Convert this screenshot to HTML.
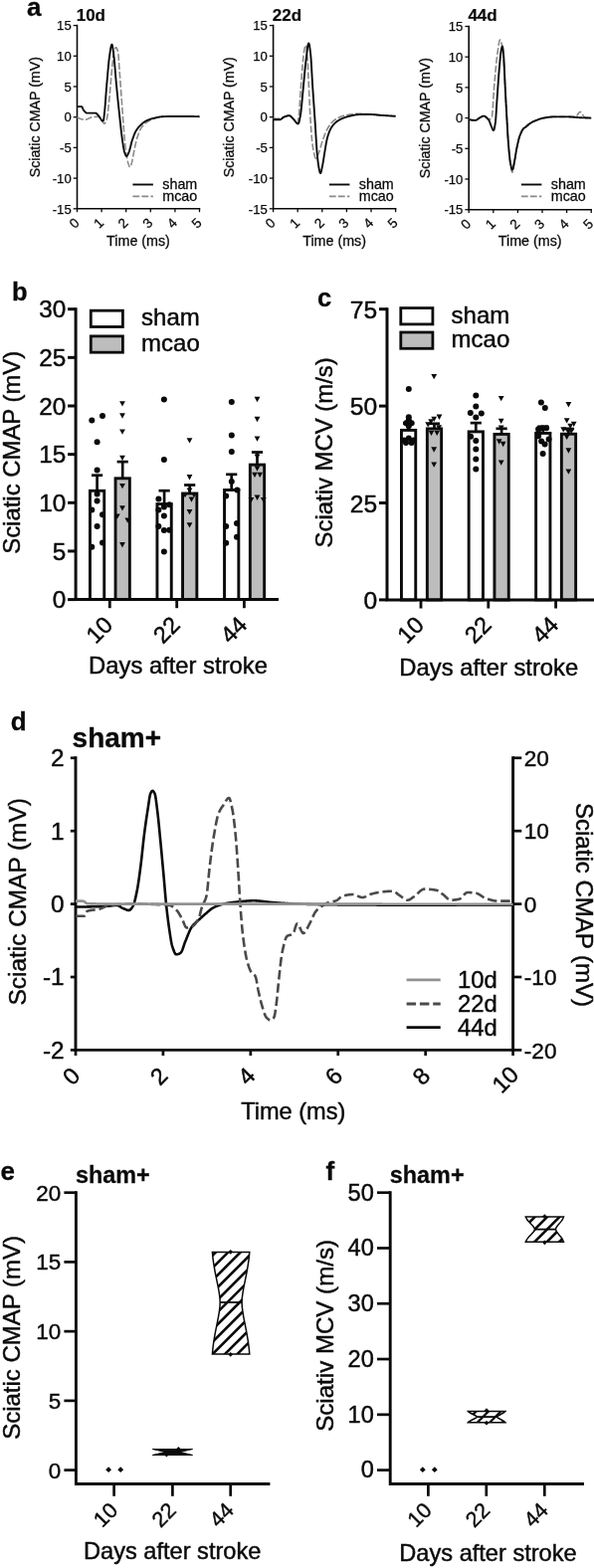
<!DOCTYPE html>
<html lang="en"><head><meta charset="utf-8"><title>Figure</title>
<style>html,body{margin:0;padding:0;background:#fff}svg{display:block}text{font-family:"Liberation Sans",Arial,Helvetica,sans-serif}</style>
</head><body>
<svg width="597" height="1576" viewBox="0 0 597 1576">
<rect width="597" height="1576" fill="#fff"/>
<text x="27" y="15.6" font-size="26" font-weight="bold" fill="#0a0a0a" stroke="#0a0a0a" stroke-width="0.29">a</text>
<path d="M77.5,24.8 V209.8 H201.3" fill="none" stroke="#0a0a0a" stroke-width="1.6" stroke-linejoin="miter"/>
<line x1="73.7" y1="25.6" x2="77.5" y2="25.6" stroke="#0a0a0a" stroke-width="1.3"/>
<text x="71.7" y="30.3" font-size="13.1" text-anchor="end" fill="#0a0a0a" stroke="#0a0a0a" stroke-width="0.25">15</text>
<line x1="73.7" y1="56.3" x2="77.5" y2="56.3" stroke="#0a0a0a" stroke-width="1.3"/>
<text x="71.7" y="61" font-size="13.1" text-anchor="end" fill="#0a0a0a" stroke="#0a0a0a" stroke-width="0.25">10</text>
<line x1="73.7" y1="87" x2="77.5" y2="87" stroke="#0a0a0a" stroke-width="1.3"/>
<text x="71.7" y="91.7" font-size="13.1" text-anchor="end" fill="#0a0a0a" stroke="#0a0a0a" stroke-width="0.25">5</text>
<line x1="73.7" y1="117.7" x2="77.5" y2="117.7" stroke="#0a0a0a" stroke-width="1.3"/>
<text x="71.7" y="122.4" font-size="13.1" text-anchor="end" fill="#0a0a0a" stroke="#0a0a0a" stroke-width="0.25">0</text>
<line x1="73.7" y1="148.4" x2="77.5" y2="148.4" stroke="#0a0a0a" stroke-width="1.3"/>
<text x="71.7" y="153.1" font-size="13.1" text-anchor="end" fill="#0a0a0a" stroke="#0a0a0a" stroke-width="0.25">-5</text>
<line x1="73.7" y1="179.1" x2="77.5" y2="179.1" stroke="#0a0a0a" stroke-width="1.3"/>
<text x="71.7" y="183.8" font-size="13.1" text-anchor="end" fill="#0a0a0a" stroke="#0a0a0a" stroke-width="0.25">-10</text>
<line x1="73.7" y1="209.8" x2="77.5" y2="209.8" stroke="#0a0a0a" stroke-width="1.3"/>
<text x="71.7" y="214.5" font-size="13.1" text-anchor="end" fill="#0a0a0a" stroke="#0a0a0a" stroke-width="0.25">-15</text>
<line x1="77.5" y1="209.8" x2="77.5" y2="213.2" stroke="#0a0a0a" stroke-width="1.3"/>
<text transform="translate(74.4 224.2) rotate(-45)" x="0" y="4.87" font-size="13.6" text-anchor="middle" fill="#0a0a0a" stroke="#0a0a0a" stroke-width="0.26">0</text>
<line x1="102.1" y1="209.8" x2="102.1" y2="213.2" stroke="#0a0a0a" stroke-width="1.3"/>
<text transform="translate(99 224.2) rotate(-45)" x="0" y="4.87" font-size="13.6" text-anchor="middle" fill="#0a0a0a" stroke="#0a0a0a" stroke-width="0.26">1</text>
<line x1="126.7" y1="209.8" x2="126.7" y2="213.2" stroke="#0a0a0a" stroke-width="1.3"/>
<text transform="translate(123.6 224.2) rotate(-45)" x="0" y="4.87" font-size="13.6" text-anchor="middle" fill="#0a0a0a" stroke="#0a0a0a" stroke-width="0.26">2</text>
<line x1="151.3" y1="209.8" x2="151.3" y2="213.2" stroke="#0a0a0a" stroke-width="1.3"/>
<text transform="translate(148.2 224.2) rotate(-45)" x="0" y="4.87" font-size="13.6" text-anchor="middle" fill="#0a0a0a" stroke="#0a0a0a" stroke-width="0.26">3</text>
<line x1="175.9" y1="209.8" x2="175.9" y2="213.2" stroke="#0a0a0a" stroke-width="1.3"/>
<text transform="translate(172.8 224.2) rotate(-45)" x="0" y="4.87" font-size="13.6" text-anchor="middle" fill="#0a0a0a" stroke="#0a0a0a" stroke-width="0.26">4</text>
<line x1="200.5" y1="209.8" x2="200.5" y2="213.2" stroke="#0a0a0a" stroke-width="1.3"/>
<text transform="translate(197.4 224.2) rotate(-45)" x="0" y="4.87" font-size="13.6" text-anchor="middle" fill="#0a0a0a" stroke="#0a0a0a" stroke-width="0.26">5</text>
<text x="76.7" y="20.8" font-size="17" font-weight="bold" fill="#0a0a0a" stroke="#0a0a0a" stroke-width="0.19">10d</text>
<text x="139" y="247" font-size="14.3" text-anchor="middle" fill="#0a0a0a" stroke="#0a0a0a" stroke-width="0.27">Time (ms)</text>
<text x="40.3" y="117.7" font-size="14.2" text-anchor="middle" fill="#0a0a0a" stroke="#0a0a0a" stroke-width="0.27" transform="rotate(-90 40.3 117.7)">Sciatic CMAP (mV)</text>
<path d="M77.5,117.7 L77.81,117.9 L78.12,118.1 L78.42,118.28 L78.73,118.46 L79.04,118.63 L79.35,118.79 L79.66,118.94 L79.97,119.08 L80.27,119.22 L80.58,119.34 L80.89,119.46 L81.2,119.57 L81.51,119.67 L81.82,119.77 L82.12,119.85 L82.43,119.93 L82.74,120 L83.05,120.06 L83.36,120.12 L83.67,120.16 L83.97,120.2 L84.28,120.23 L84.59,120.25 L84.9,120.27 L85.21,120.28 L85.52,120.28 L85.82,120.25 L86.13,120.21 L86.44,120.15 L86.75,120.07 L87.06,119.98 L87.36,119.87 L87.67,119.76 L87.98,119.63 L88.29,119.49 L88.6,119.35 L88.91,119.2 L89.21,119.05 L89.52,118.9 L89.83,118.75 L90.14,118.61 L90.45,118.46 L90.76,118.33 L91.06,118.2 L91.37,118.08 L91.68,117.97 L91.99,117.88 L92.3,117.8 L92.61,117.74 L92.91,117.7 L93.22,117.66 L93.53,117.63 L93.84,117.59 L94.15,117.56 L94.45,117.53 L94.76,117.5 L95.07,117.47 L95.38,117.44 L95.69,117.41 L96,117.39 L96.3,117.37 L96.61,117.35 L96.92,117.33 L97.23,117.31 L97.54,117.3 L97.85,117.29 L98.15,117.28 L98.46,117.27 L98.77,117.27 L99.08,117.29 L99.39,117.4 L99.7,117.6 L100,117.88 L100.31,118.22 L100.62,118.63 L100.93,119.08 L101.24,119.57 L101.55,120.08 L101.85,120.6 L102.16,121.13 L102.47,121.65 L102.78,122.14 L103.09,122.61 L103.39,123.04 L103.7,123.41 L104.01,123.72 L104.32,123.95 L104.63,124.1 L104.94,124.15 L105.24,124.05 L105.55,123.77 L105.86,123.33 L106.17,122.76 L106.48,122.08 L106.79,121.31 L107.09,120.46 L107.4,119.51 L107.71,118.04 L108.02,116.04 L108.33,113.64 L108.64,110.93 L108.94,108.03 L109.25,105.03 L109.56,102.06 L109.87,99.16 L110.18,95.99 L110.48,92.56 L110.79,88.97 L111.1,85.28 L111.41,81.59 L111.72,77.99 L112.03,74.55 L112.33,71.36 L112.64,68.38 L112.95,65.3 L113.26,62.22 L113.57,59.27 L113.88,56.6 L114.18,54.34 L114.49,52.62 L114.8,51.48 L115.11,50.47 L115.42,49.56 L115.73,48.79 L116.03,48.19 L116.34,47.82 L116.65,47.71 L116.96,47.86 L117.27,48.25 L117.58,48.85 L117.88,49.64 L118.19,50.6 L118.5,51.69 L118.81,53.41 L119.12,56.73 L119.42,61.08 L119.73,65.79 L120.04,70.2 L120.35,74.25 L120.66,78.38 L120.97,82.57 L121.27,86.8 L121.58,91.05 L121.89,95.3 L122.2,99.52 L122.51,103.75 L122.82,108.09 L123.12,112.47 L123.43,116.82 L123.74,121.09 L124.05,125.19 L124.36,129.06 L124.67,132.7 L124.97,136.34 L125.28,139.91 L125.59,143.35 L125.9,146.57 L126.21,149.49 L126.52,152.01 L126.82,154.11 L127.13,156 L127.44,157.77 L127.75,159.4 L128.06,160.88 L128.36,162.22 L128.67,163.41 L128.98,164.45 L129.29,165.35 L129.6,166.23 L129.91,167.05 L130.21,167.68 L130.52,168.02 L130.83,167.96 L131.14,167.5 L131.45,166.74 L131.76,165.79 L132.06,164.74 L132.37,163.7 L132.68,162.56 L132.99,161.2 L133.3,159.67 L133.61,158.02 L133.91,156.31 L134.22,154.58 L134.53,152.9 L134.84,151.31 L135.15,149.87 L135.45,148.45 L135.76,147.03 L136.07,145.61 L136.38,144.23 L136.69,142.88 L137,141.6 L137.3,140.39 L137.61,139.26 L137.92,138.25 L138.23,137.33 L138.54,136.44 L138.85,135.58 L139.15,134.74 L139.46,133.93 L139.77,133.15 L140.08,132.4 L140.39,131.69 L140.7,131 L141,130.36 L141.31,129.75 L141.62,129.18 L141.93,128.65 L142.24,128.16 L142.55,127.72 L142.85,127.31 L143.16,126.93 L143.47,126.56 L143.78,126.21 L144.09,125.88 L144.39,125.55 L144.7,125.24 L145.01,124.95 L145.32,124.66 L145.63,124.39 L145.94,124.13 L146.24,123.88 L146.55,123.64 L146.86,123.41 L147.17,123.18 L147.48,122.97 L147.79,122.76 L148.09,122.56 L148.4,122.36 L148.71,122.17 L149.02,121.99 L149.33,121.8 L149.64,121.62 L149.94,121.45 L150.25,121.27 L150.56,121.1 L150.87,120.94 L151.18,120.78 L151.48,120.62 L151.79,120.47 L152.1,120.32 L152.41,120.17 L152.72,120.03 L153.03,119.89 L153.33,119.76 L153.64,119.63 L153.95,119.51 L154.26,119.39 L154.57,119.27 L154.88,119.16 L155.18,119.06 L155.49,118.96 L155.8,118.86 L156.11,118.77 L156.42,118.69 L156.73,118.6 L157.03,118.52 L157.34,118.43 L157.65,118.35 L157.96,118.27 L158.27,118.19 L158.58,118.11 L158.88,118.03 L159.19,117.96 L159.5,117.89 L159.81,117.82 L160.12,117.75 L160.42,117.69 L160.73,117.63 L161.04,117.57 L161.35,117.52 L161.66,117.47 L161.97,117.42 L162.27,117.38 L162.58,117.35 L162.89,117.32 L163.2,117.29 L163.51,117.27 L163.82,117.26 L164.12,117.25 L164.43,117.23 L164.74,117.22 L165.05,117.2 L165.36,117.19 L165.67,117.18 L165.97,117.17 L166.28,117.15 L166.59,117.14 L166.9,117.13 L167.21,117.12 L167.52,117.11 L167.82,117.1 L168.13,117.09 L168.44,117.08 L168.75,117.07 L169.06,117.06 L169.36,117.05 L169.67,117.05 L169.98,117.04 L170.29,117.03 L170.6,117.02 L170.91,117.02 L171.21,117.01 L171.52,117 L171.83,117 L172.14,116.99 L172.45,116.99 L172.76,116.98 L173.06,116.98 L173.37,116.98 L173.68,116.97 L173.99,116.97 L174.3,116.97 L174.61,116.97 L174.91,116.97 L175.22,116.96 L175.53,116.96 L175.84,116.96 L176.15,116.96 L176.45,116.96 L176.76,116.96 L177.07,116.96 L177.38,116.96 L177.69,116.96 L178,116.96 L178.3,116.96 L178.61,116.96 L178.92,116.96 L179.23,116.96 L179.54,116.96 L179.85,116.96 L180.15,116.96 L180.46,116.96 L180.77,116.97 L181.08,116.97 L181.39,116.97 L181.7,116.97 L182,116.97 L182.31,116.97 L182.62,116.97 L182.93,116.97 L183.24,116.97 L183.55,116.97 L183.85,116.97 L184.16,116.97 L184.47,116.97 L184.78,116.97 L185.09,116.98 L185.39,116.98 L185.7,116.98 L186.01,116.98 L186.32,116.98 L186.63,116.98 L186.94,116.99 L187.24,116.99 L187.55,116.99 L187.86,116.99 L188.17,116.99 L188.48,117 L188.79,117 L189.09,117 L189.4,117 L189.71,117.01 L190.02,117.01 L190.33,117.01 L190.64,117.02 L190.94,117.02 L191.25,117.02 L191.56,117.03 L191.87,117.03 L192.18,117.03 L192.48,117.04 L192.79,117.04 L193.1,117.05 L193.41,117.05 L193.72,117.06 L194.03,117.06 L194.33,117.07 L194.64,117.07 L194.95,117.08 L195.26,117.08 L195.57,117.09 L195.88,117.09 L196.18,117.1 L196.49,117.11 L196.8,117.11 L197.11,117.12 L197.42,117.13 L197.73,117.13 L198.03,117.14 L198.34,117.15 L198.65,117.16 L198.96,117.17 L199.27,117.17 L199.58,117.18 L199.88,117.19 L200.19,117.2 L200.5,117.21" fill="none" stroke="#8a8a8a" stroke-width="1.6" stroke-linejoin="round" stroke-dasharray="6.8 2.2"/>
<path d="M77.5,107.14 L77.81,107.14 L78.12,107.14 L78.42,107.14 L78.73,107.14 L79.04,107.14 L79.35,107.14 L79.66,107.14 L79.97,107.14 L80.27,107.14 L80.58,107.14 L80.89,107.14 L81.2,107.14 L81.51,107.14 L81.82,107.14 L82.12,107.21 L82.43,107.54 L82.74,108.09 L83.05,108.77 L83.36,109.49 L83.67,110.17 L83.97,110.72 L84.28,111.1 L84.59,111.45 L84.9,111.79 L85.21,112.12 L85.52,112.44 L85.82,112.74 L86.13,113 L86.44,113.23 L86.75,113.42 L87.06,113.55 L87.36,113.63 L87.67,113.65 L87.98,113.65 L88.29,113.65 L88.6,113.65 L88.91,113.65 L89.21,113.65 L89.52,113.65 L89.83,113.65 L90.14,113.65 L90.45,113.65 L90.76,113.65 L91.06,113.65 L91.37,113.65 L91.68,113.65 L91.99,113.65 L92.3,113.65 L92.61,113.65 L92.91,113.65 L93.22,113.65 L93.53,113.65 L93.84,113.65 L94.15,113.65 L94.45,113.65 L94.76,113.65 L95.07,113.65 L95.38,113.65 L95.69,113.65 L96,113.65 L96.3,113.71 L96.61,113.86 L96.92,114.07 L97.23,114.34 L97.54,114.65 L97.85,114.99 L98.15,115.34 L98.46,115.69 L98.77,116.03 L99.08,116.35 L99.39,116.73 L99.7,117.15 L100,117.61 L100.31,118.09 L100.62,118.58 L100.93,119.07 L101.24,119.54 L101.55,119.99 L101.85,120.4 L102.16,120.75 L102.47,121.05 L102.78,121.26 L103.09,121.38 L103.39,121.46 L103.7,121.5 L104.01,121.15 L104.32,119.37 L104.63,116.73 L104.94,113.96 L105.24,111 L105.55,107.48 L105.86,103.57 L106.17,99.42 L106.48,95.19 L106.79,91.05 L107.09,87.16 L107.4,83.62 L107.71,80.08 L108.02,76.51 L108.33,72.96 L108.64,69.49 L108.94,66.16 L109.25,63.02 L109.56,60.13 L109.87,57.55 L110.18,55.34 L110.48,53.35 L110.79,51.33 L111.1,49.39 L111.41,47.64 L111.72,46.2 L112.03,45.17 L112.33,44.67 L112.64,44.85 L112.95,45.88 L113.26,47.54 L113.57,49.65 L113.88,52 L114.18,54.38 L114.49,56.79 L114.8,59.67 L115.11,62.94 L115.42,66.5 L115.73,70.24 L116.03,74.06 L116.34,77.84 L116.65,81.49 L116.96,84.9 L117.27,88.11 L117.58,91.28 L117.88,94.41 L118.19,97.51 L118.5,100.57 L118.81,103.59 L119.12,106.57 L119.42,109.51 L119.73,112.41 L120.04,115.27 L120.35,118.14 L120.66,121.03 L120.97,123.92 L121.27,126.79 L121.58,129.6 L121.89,132.32 L122.2,134.93 L122.51,137.4 L122.82,139.69 L123.12,141.8 L123.43,143.87 L123.74,145.91 L124.05,147.85 L124.36,149.63 L124.67,151.2 L124.97,152.5 L125.28,153.47 L125.59,154.32 L125.9,155.12 L126.21,155.83 L126.52,156.41 L126.82,156.81 L127.13,156.99 L127.44,156.92 L127.75,156.65 L128.06,156.2 L128.36,155.64 L128.67,154.98 L128.98,154.28 L129.29,153.57 L129.6,152.85 L129.91,151.99 L130.21,150.98 L130.52,149.87 L130.83,148.68 L131.14,147.44 L131.45,146.18 L131.76,144.94 L132.06,143.73 L132.37,142.59 L132.68,141.55 L132.99,140.62 L133.3,139.72 L133.61,138.84 L133.91,137.97 L134.22,137.12 L134.53,136.29 L134.84,135.49 L135.15,134.73 L135.45,134.01 L135.76,133.32 L136.07,132.69 L136.38,132.1 L136.69,131.57 L137,131.07 L137.3,130.58 L137.61,130.12 L137.92,129.67 L138.23,129.25 L138.54,128.84 L138.85,128.44 L139.15,128.07 L139.46,127.7 L139.77,127.36 L140.08,127.02 L140.39,126.69 L140.7,126.38 L141,126.07 L141.31,125.78 L141.62,125.48 L141.93,125.19 L142.24,124.91 L142.55,124.63 L142.85,124.36 L143.16,124.09 L143.47,123.83 L143.78,123.58 L144.09,123.34 L144.39,123.1 L144.7,122.87 L145.01,122.65 L145.32,122.43 L145.63,122.23 L145.94,122.03 L146.24,121.85 L146.55,121.68 L146.86,121.51 L147.17,121.36 L147.48,121.21 L147.79,121.07 L148.09,120.93 L148.4,120.8 L148.71,120.67 L149.02,120.54 L149.33,120.41 L149.64,120.29 L149.94,120.18 L150.25,120.06 L150.56,119.95 L150.87,119.85 L151.18,119.74 L151.48,119.64 L151.79,119.54 L152.1,119.45 L152.41,119.36 L152.72,119.27 L153.03,119.18 L153.33,119.1 L153.64,119.02 L153.95,118.94 L154.26,118.86 L154.57,118.79 L154.88,118.71 L155.18,118.64 L155.49,118.57 L155.8,118.5 L156.11,118.42 L156.42,118.35 L156.73,118.28 L157.03,118.21 L157.34,118.14 L157.65,118.07 L157.96,118.01 L158.27,117.94 L158.58,117.88 L158.88,117.82 L159.19,117.76 L159.5,117.7 L159.81,117.64 L160.12,117.59 L160.42,117.54 L160.73,117.49 L161.04,117.45 L161.35,117.4 L161.66,117.36 L161.97,117.33 L162.27,117.3 L162.58,117.27 L162.89,117.25 L163.2,117.23 L163.51,117.21 L163.82,117.2 L164.12,117.19 L164.43,117.18 L164.74,117.17 L165.05,117.16 L165.36,117.15 L165.67,117.14 L165.97,117.13 L166.28,117.12 L166.59,117.11 L166.9,117.1 L167.21,117.09 L167.52,117.08 L167.82,117.07 L168.13,117.07 L168.44,117.06 L168.75,117.05 L169.06,117.04 L169.36,117.04 L169.67,117.03 L169.98,117.02 L170.29,117.02 L170.6,117.01 L170.91,117.01 L171.21,117 L171.52,117 L171.83,116.99 L172.14,116.99 L172.45,116.98 L172.76,116.98 L173.06,116.98 L173.37,116.97 L173.68,116.97 L173.99,116.97 L174.3,116.97 L174.61,116.97 L174.91,116.96 L175.22,116.96 L175.53,116.96 L175.84,116.96 L176.15,116.96 L176.45,116.96 L176.76,116.96 L177.07,116.96 L177.38,116.96 L177.69,116.96 L178,116.96 L178.3,116.96 L178.61,116.96 L178.92,116.96 L179.23,116.96 L179.54,116.96 L179.85,116.96 L180.15,116.96 L180.46,116.96 L180.77,116.97 L181.08,116.97 L181.39,116.97 L181.7,116.97 L182,116.97 L182.31,116.97 L182.62,116.97 L182.93,116.97 L183.24,116.97 L183.55,116.97 L183.85,116.97 L184.16,116.97 L184.47,116.97 L184.78,116.97 L185.09,116.98 L185.39,116.98 L185.7,116.98 L186.01,116.98 L186.32,116.98 L186.63,116.98 L186.94,116.99 L187.24,116.99 L187.55,116.99 L187.86,116.99 L188.17,116.99 L188.48,117 L188.79,117 L189.09,117 L189.4,117 L189.71,117.01 L190.02,117.01 L190.33,117.01 L190.64,117.02 L190.94,117.02 L191.25,117.02 L191.56,117.03 L191.87,117.03 L192.18,117.03 L192.48,117.04 L192.79,117.04 L193.1,117.05 L193.41,117.05 L193.72,117.06 L194.03,117.06 L194.33,117.07 L194.64,117.07 L194.95,117.08 L195.26,117.08 L195.57,117.09 L195.88,117.09 L196.18,117.1 L196.49,117.11 L196.8,117.11 L197.11,117.12 L197.42,117.13 L197.73,117.13 L198.03,117.14 L198.34,117.15 L198.65,117.16 L198.96,117.17 L199.27,117.17 L199.58,117.18 L199.88,117.19 L200.19,117.2 L200.5,117.21" fill="none" stroke="#0a0a0a" stroke-width="1.9" stroke-linejoin="round"/>
<line x1="133.4" y1="185.5" x2="153.9" y2="185.5" stroke="#0a0a0a" stroke-width="1.9"/>
<line x1="133.4" y1="197.4" x2="153.9" y2="197.4" stroke="#8a8a8a" stroke-width="1.6" stroke-dasharray="6.8 2.2"/>
<text x="163.3" y="190" font-size="14.3" fill="#0a0a0a" stroke="#0a0a0a" stroke-width="0.27">sham</text>
<text x="163.3" y="202.1" font-size="14.3" fill="#0a0a0a" stroke="#0a0a0a" stroke-width="0.27">mcao</text>
<path d="M274.6,24.8 V209.8 H398.4" fill="none" stroke="#0a0a0a" stroke-width="1.6" stroke-linejoin="miter"/>
<line x1="270.8" y1="25.6" x2="274.6" y2="25.6" stroke="#0a0a0a" stroke-width="1.3"/>
<text x="268.8" y="30.3" font-size="13.1" text-anchor="end" fill="#0a0a0a" stroke="#0a0a0a" stroke-width="0.25">15</text>
<line x1="270.8" y1="56.3" x2="274.6" y2="56.3" stroke="#0a0a0a" stroke-width="1.3"/>
<text x="268.8" y="61" font-size="13.1" text-anchor="end" fill="#0a0a0a" stroke="#0a0a0a" stroke-width="0.25">10</text>
<line x1="270.8" y1="87" x2="274.6" y2="87" stroke="#0a0a0a" stroke-width="1.3"/>
<text x="268.8" y="91.7" font-size="13.1" text-anchor="end" fill="#0a0a0a" stroke="#0a0a0a" stroke-width="0.25">5</text>
<line x1="270.8" y1="117.7" x2="274.6" y2="117.7" stroke="#0a0a0a" stroke-width="1.3"/>
<text x="268.8" y="122.4" font-size="13.1" text-anchor="end" fill="#0a0a0a" stroke="#0a0a0a" stroke-width="0.25">0</text>
<line x1="270.8" y1="148.4" x2="274.6" y2="148.4" stroke="#0a0a0a" stroke-width="1.3"/>
<text x="268.8" y="153.1" font-size="13.1" text-anchor="end" fill="#0a0a0a" stroke="#0a0a0a" stroke-width="0.25">-5</text>
<line x1="270.8" y1="179.1" x2="274.6" y2="179.1" stroke="#0a0a0a" stroke-width="1.3"/>
<text x="268.8" y="183.8" font-size="13.1" text-anchor="end" fill="#0a0a0a" stroke="#0a0a0a" stroke-width="0.25">-10</text>
<line x1="270.8" y1="209.8" x2="274.6" y2="209.8" stroke="#0a0a0a" stroke-width="1.3"/>
<text x="268.8" y="214.5" font-size="13.1" text-anchor="end" fill="#0a0a0a" stroke="#0a0a0a" stroke-width="0.25">-15</text>
<line x1="274.6" y1="209.8" x2="274.6" y2="213.2" stroke="#0a0a0a" stroke-width="1.3"/>
<text transform="translate(271.5 224.2) rotate(-45)" x="0" y="4.87" font-size="13.6" text-anchor="middle" fill="#0a0a0a" stroke="#0a0a0a" stroke-width="0.26">0</text>
<line x1="299.2" y1="209.8" x2="299.2" y2="213.2" stroke="#0a0a0a" stroke-width="1.3"/>
<text transform="translate(296.1 224.2) rotate(-45)" x="0" y="4.87" font-size="13.6" text-anchor="middle" fill="#0a0a0a" stroke="#0a0a0a" stroke-width="0.26">1</text>
<line x1="323.8" y1="209.8" x2="323.8" y2="213.2" stroke="#0a0a0a" stroke-width="1.3"/>
<text transform="translate(320.7 224.2) rotate(-45)" x="0" y="4.87" font-size="13.6" text-anchor="middle" fill="#0a0a0a" stroke="#0a0a0a" stroke-width="0.26">2</text>
<line x1="348.4" y1="209.8" x2="348.4" y2="213.2" stroke="#0a0a0a" stroke-width="1.3"/>
<text transform="translate(345.3 224.2) rotate(-45)" x="0" y="4.87" font-size="13.6" text-anchor="middle" fill="#0a0a0a" stroke="#0a0a0a" stroke-width="0.26">3</text>
<line x1="373" y1="209.8" x2="373" y2="213.2" stroke="#0a0a0a" stroke-width="1.3"/>
<text transform="translate(369.9 224.2) rotate(-45)" x="0" y="4.87" font-size="13.6" text-anchor="middle" fill="#0a0a0a" stroke="#0a0a0a" stroke-width="0.26">4</text>
<line x1="397.6" y1="209.8" x2="397.6" y2="213.2" stroke="#0a0a0a" stroke-width="1.3"/>
<text transform="translate(394.5 224.2) rotate(-45)" x="0" y="4.87" font-size="13.6" text-anchor="middle" fill="#0a0a0a" stroke="#0a0a0a" stroke-width="0.26">5</text>
<text x="273.8" y="20.8" font-size="17" font-weight="bold" fill="#0a0a0a" stroke="#0a0a0a" stroke-width="0.19">22d</text>
<text x="336.1" y="247" font-size="14.3" text-anchor="middle" fill="#0a0a0a" stroke="#0a0a0a" stroke-width="0.27">Time (ms)</text>
<text x="234.6" y="117.7" font-size="14.2" text-anchor="middle" fill="#0a0a0a" stroke="#0a0a0a" stroke-width="0.27" transform="rotate(-90 234.6 117.7)">Sciatic CMAP (mV)</text>
<path d="M274.6,118.74 L274.91,118.83 L275.22,118.9 L275.52,118.96 L275.83,119.02 L276.14,119.07 L276.45,119.11 L276.76,119.14 L277.07,119.17 L277.37,119.19 L277.68,119.2 L277.99,119.22 L278.3,119.22 L278.61,119.23 L278.92,119.23 L279.22,119.23 L279.53,119.23 L279.84,119.22 L280.15,119.19 L280.46,119.15 L280.77,119.09 L281.07,119.01 L281.38,118.92 L281.69,118.82 L282,118.71 L282.31,118.6 L282.62,118.48 L282.92,118.35 L283.23,118.23 L283.54,118.1 L283.85,117.97 L284.16,117.84 L284.46,117.72 L284.77,117.61 L285.08,117.5 L285.39,117.4 L285.7,117.31 L286.01,117.2 L286.31,117.09 L286.62,116.98 L286.93,116.86 L287.24,116.74 L287.55,116.63 L287.86,116.51 L288.16,116.41 L288.47,116.31 L288.78,116.22 L289.09,116.14 L289.4,116.07 L289.71,116.02 L290.01,115.99 L290.32,115.98 L290.63,116.01 L290.94,116.09 L291.25,116.23 L291.55,116.42 L291.86,116.64 L292.17,116.89 L292.48,117.17 L292.79,117.47 L293.1,117.77 L293.4,118.08 L293.71,118.39 L294.02,118.69 L294.33,118.97 L294.64,119.29 L294.95,119.66 L295.25,120.06 L295.56,120.5 L295.87,120.96 L296.18,121.42 L296.49,121.87 L296.8,122.3 L297.1,122.7 L297.41,123.06 L297.72,123.37 L298.03,123.61 L298.34,123.77 L298.65,123.84 L298.95,123.6 L299.26,122.67 L299.57,121.2 L299.88,119.33 L300.19,117.2 L300.49,114.92 L300.8,111.62 L301.11,107.24 L301.42,102.3 L301.73,97.29 L302.04,92.74 L302.34,88.46 L302.65,84.09 L302.96,79.72 L303.27,75.44 L303.58,71.36 L303.89,67.56 L304.19,64.14 L304.5,61.15 L304.81,58.25 L305.12,55.45 L305.43,52.88 L305.74,50.64 L306.04,48.86 L306.35,47.65 L306.66,46.75 L306.97,45.97 L307.28,45.43 L307.58,45.25 L307.89,46.25 L308.2,48.63 L308.51,51.84 L308.82,55.35 L309.13,60.04 L309.43,66.26 L309.74,73.3 L310.05,80.44 L310.36,87.01 L310.67,93.6 L310.98,100.3 L311.28,106.79 L311.59,112.75 L311.9,118 L312.21,123.03 L312.52,127.86 L312.83,132.37 L313.13,136.45 L313.44,139.99 L313.75,142.87 L314.06,145.34 L314.37,147.57 L314.68,149.58 L314.98,151.37 L315.29,152.91 L315.6,154.23 L315.91,155.39 L316.22,156.53 L316.52,157.58 L316.83,158.43 L317.14,158.98 L317.45,159.14 L317.76,159.02 L318.07,158.72 L318.37,158.28 L318.68,157.73 L318.99,157.1 L319.3,156.41 L319.61,155.69 L319.92,154.98 L320.22,154.28 L320.53,153.5 L320.84,152.62 L321.15,151.65 L321.46,150.62 L321.77,149.54 L322.07,148.44 L322.38,147.32 L322.69,146.21 L323,145.13 L323.31,144.09 L323.62,143.11 L323.92,142.21 L324.23,141.32 L324.54,140.44 L324.85,139.56 L325.16,138.69 L325.46,137.83 L325.77,136.98 L326.08,136.15 L326.39,135.34 L326.7,134.55 L327.01,133.78 L327.31,133.05 L327.62,132.35 L327.93,131.68 L328.24,131.05 L328.55,130.46 L328.86,129.89 L329.16,129.33 L329.47,128.78 L329.78,128.25 L330.09,127.74 L330.4,127.24 L330.71,126.75 L331.01,126.28 L331.32,125.83 L331.63,125.39 L331.94,124.97 L332.25,124.57 L332.55,124.18 L332.86,123.82 L333.17,123.47 L333.48,123.14 L333.79,122.83 L334.1,122.54 L334.4,122.24 L334.71,121.96 L335.02,121.69 L335.33,121.42 L335.64,121.16 L335.95,120.91 L336.25,120.66 L336.56,120.43 L336.87,120.2 L337.18,119.98 L337.49,119.77 L337.8,119.56 L338.1,119.37 L338.41,119.18 L338.72,119 L339.03,118.83 L339.34,118.66 L339.65,118.51 L339.95,118.36 L340.26,118.21 L340.57,118.07 L340.88,117.93 L341.19,117.79 L341.49,117.66 L341.8,117.53 L342.11,117.4 L342.42,117.28 L342.73,117.16 L343.04,117.04 L343.34,116.92 L343.65,116.81 L343.96,116.71 L344.27,116.61 L344.58,116.51 L344.89,116.41 L345.19,116.32 L345.5,116.24 L345.81,116.16 L346.12,116.08 L346.43,116.01 L346.74,115.94 L347.04,115.88 L347.35,115.82 L347.66,115.77 L347.97,115.71 L348.28,115.65 L348.58,115.6 L348.89,115.54 L349.2,115.49 L349.51,115.43 L349.82,115.38 L350.13,115.33 L350.43,115.28 L350.74,115.22 L351.05,115.17 L351.36,115.12 L351.67,115.07 L351.98,115.03 L352.28,114.98 L352.59,114.93 L352.9,114.89 L353.21,114.84 L353.52,114.8 L353.83,114.76 L354.13,114.72 L354.44,114.68 L354.75,114.64 L355.06,114.61 L355.37,114.57 L355.68,114.54 L355.98,114.51 L356.29,114.48 L356.6,114.45 L356.91,114.43 L357.22,114.4 L357.52,114.38 L357.83,114.36 L358.14,114.34 L358.45,114.32 L358.76,114.31 L359.07,114.29 L359.37,114.28 L359.68,114.27 L359.99,114.27 L360.3,114.26 L360.61,114.26 L360.92,114.26 L361.22,114.26 L361.53,114.27 L361.84,114.27 L362.15,114.27 L362.46,114.28 L362.77,114.29 L363.07,114.29 L363.38,114.3 L363.69,114.31 L364,114.32 L364.31,114.33 L364.62,114.34 L364.92,114.35 L365.23,114.37 L365.54,114.38 L365.85,114.39 L366.16,114.41 L366.46,114.42 L366.77,114.43 L367.08,114.45 L367.39,114.47 L367.7,114.48 L368.01,114.5 L368.31,114.51 L368.62,114.53 L368.93,114.55 L369.24,114.56 L369.55,114.58 L369.86,114.59 L370.16,114.61 L370.47,114.63 L370.78,114.64 L371.09,114.66 L371.4,114.68 L371.71,114.7 L372.01,114.72 L372.32,114.74 L372.63,114.77 L372.94,114.79 L373.25,114.82 L373.55,114.84 L373.86,114.87 L374.17,114.9 L374.48,114.92 L374.79,114.95 L375.1,114.98 L375.4,115.01 L375.71,115.04 L376.02,115.07 L376.33,115.1 L376.64,115.14 L376.95,115.17 L377.25,115.2 L377.56,115.23 L377.87,115.26 L378.18,115.29 L378.49,115.33 L378.8,115.36 L379.1,115.39 L379.41,115.42 L379.72,115.45 L380.03,115.48 L380.34,115.51 L380.65,115.54 L380.95,115.57 L381.26,115.6 L381.57,115.63 L381.88,115.65 L382.19,115.68 L382.49,115.71 L382.8,115.73 L383.11,115.76 L383.42,115.78 L383.73,115.81 L384.04,115.83 L384.34,115.85 L384.65,115.88 L384.96,115.9 L385.27,115.93 L385.58,115.95 L385.89,115.97 L386.19,116 L386.5,116.02 L386.81,116.04 L387.12,116.07 L387.43,116.09 L387.74,116.11 L388.04,116.13 L388.35,116.16 L388.66,116.18 L388.97,116.2 L389.28,116.22 L389.58,116.25 L389.89,116.27 L390.2,116.29 L390.51,116.31 L390.82,116.33 L391.13,116.36 L391.43,116.38 L391.74,116.4 L392.05,116.42 L392.36,116.44 L392.67,116.46 L392.98,116.48 L393.28,116.5 L393.59,116.52 L393.9,116.55 L394.21,116.57 L394.52,116.59 L394.83,116.61 L395.13,116.63 L395.44,116.65 L395.75,116.66 L396.06,116.68 L396.37,116.7 L396.68,116.72 L396.98,116.74 L397.29,116.76 L397.6,116.78" fill="none" stroke="#8a8a8a" stroke-width="1.6" stroke-linejoin="round" stroke-dasharray="6.8 2.2"/>
<path d="M274.6,120.28 L274.91,120.28 L275.22,120.28 L275.52,120.28 L275.83,120.28 L276.14,120.28 L276.45,120.28 L276.76,120.28 L277.07,120.28 L277.37,120.28 L277.68,120.28 L277.99,120.28 L278.3,120.28 L278.61,120.28 L278.92,120.28 L279.22,120.28 L279.53,120.28 L279.84,120.28 L280.15,120.28 L280.46,120.28 L280.77,120.28 L281.07,120.28 L281.38,120.24 L281.69,120.14 L282,120.01 L282.31,119.84 L282.62,119.64 L282.92,119.42 L283.23,119.19 L283.54,118.95 L283.85,118.7 L284.16,118.47 L284.46,118.24 L284.77,118.04 L285.08,117.86 L285.39,117.71 L285.7,117.59 L286.01,117.47 L286.31,117.34 L286.62,117.22 L286.93,117.1 L287.24,116.98 L287.55,116.86 L287.86,116.75 L288.16,116.64 L288.47,116.54 L288.78,116.45 L289.09,116.38 L289.4,116.31 L289.71,116.25 L290.01,116.21 L290.32,116.18 L290.63,116.17 L290.94,116.18 L291.25,116.27 L291.55,116.42 L291.86,116.62 L292.17,116.86 L292.48,117.14 L292.79,117.44 L293.1,117.77 L293.4,118.1 L293.71,118.43 L294.02,118.75 L294.33,119.05 L294.64,119.34 L294.95,119.65 L295.25,120 L295.56,120.37 L295.87,120.77 L296.18,121.18 L296.49,121.59 L296.8,122.01 L297.1,122.41 L297.41,122.8 L297.72,123.17 L298.03,123.5 L298.34,123.8 L298.65,124.05 L298.95,124.25 L299.26,124.38 L299.57,124.45 L299.88,124.37 L300.19,123.87 L300.49,122.99 L300.8,121.8 L301.11,120.38 L301.42,118.79 L301.73,117.1 L302.04,115.39 L302.34,113.37 L302.65,110.82 L302.96,107.88 L303.27,104.66 L303.58,101.29 L303.89,97.89 L304.19,94.59 L304.5,91.46 L304.81,88.23 L305.12,84.88 L305.43,81.48 L305.74,78.06 L306.04,74.69 L306.35,71.42 L306.66,68.31 L306.97,65.41 L307.28,62.77 L307.58,60.25 L307.89,57.6 L308.2,54.91 L308.51,52.28 L308.82,49.81 L309.13,47.61 L309.43,45.77 L309.74,44.4 L310.05,43.59 L310.36,43.44 L310.67,44.08 L310.98,45.41 L311.28,47.29 L311.59,49.58 L311.9,52.14 L312.21,54.82 L312.52,58.13 L312.83,62.69 L313.13,68.07 L313.44,73.83 L313.75,79.55 L314.06,84.78 L314.37,89.49 L314.68,94.08 L314.98,98.58 L315.29,103.02 L315.6,107.44 L315.91,111.87 L316.22,116.33 L316.52,120.87 L316.83,125.56 L317.14,130.59 L317.45,135.79 L317.76,140.93 L318.07,145.8 L318.37,150.18 L318.68,153.84 L318.99,157.11 L319.3,160.16 L319.61,162.92 L319.92,165.34 L320.22,167.34 L320.53,168.94 L320.84,170.49 L321.15,171.92 L321.46,173.09 L321.77,173.89 L322.07,174.19 L322.38,173.88 L322.69,173.03 L323,171.81 L323.31,170.38 L323.62,168.89 L323.92,167.48 L324.23,165.92 L324.54,164.16 L324.85,162.26 L325.16,160.29 L325.46,158.28 L325.77,156.29 L326.08,154.37 L326.39,152.55 L326.7,150.69 L327.01,148.79 L327.31,146.9 L327.62,145.05 L327.93,143.3 L328.24,141.68 L328.55,140.26 L328.86,139.04 L329.16,137.92 L329.47,136.84 L329.78,135.82 L330.09,134.86 L330.4,133.95 L330.71,133.1 L331.01,132.3 L331.32,131.56 L331.63,130.86 L331.94,130.23 L332.25,129.64 L332.55,129.09 L332.86,128.56 L333.17,128.06 L333.48,127.58 L333.79,127.12 L334.1,126.68 L334.4,126.27 L334.71,125.87 L335.02,125.49 L335.33,125.13 L335.64,124.79 L335.95,124.47 L336.25,124.16 L336.56,123.87 L336.87,123.59 L337.18,123.32 L337.49,123.05 L337.8,122.8 L338.1,122.55 L338.41,122.31 L338.72,122.08 L339.03,121.85 L339.34,121.63 L339.65,121.42 L339.95,121.22 L340.26,121.02 L340.57,120.83 L340.88,120.65 L341.19,120.47 L341.49,120.3 L341.8,120.13 L342.11,119.97 L342.42,119.82 L342.73,119.67 L343.04,119.53 L343.34,119.39 L343.65,119.25 L343.96,119.11 L344.27,118.98 L344.58,118.85 L344.89,118.73 L345.19,118.6 L345.5,118.48 L345.81,118.37 L346.12,118.25 L346.43,118.14 L346.74,118.03 L347.04,117.93 L347.35,117.82 L347.66,117.72 L347.97,117.63 L348.28,117.53 L348.58,117.44 L348.89,117.35 L349.2,117.26 L349.51,117.18 L349.82,117.1 L350.13,117.02 L350.43,116.95 L350.74,116.87 L351.05,116.8 L351.36,116.72 L351.67,116.65 L351.98,116.57 L352.28,116.5 L352.59,116.43 L352.9,116.35 L353.21,116.28 L353.52,116.21 L353.83,116.14 L354.13,116.07 L354.44,116 L354.75,115.94 L355.06,115.87 L355.37,115.81 L355.68,115.75 L355.98,115.69 L356.29,115.63 L356.6,115.57 L356.91,115.52 L357.22,115.47 L357.52,115.42 L357.83,115.38 L358.14,115.34 L358.45,115.3 L358.76,115.26 L359.07,115.23 L359.37,115.2 L359.68,115.18 L359.99,115.16 L360.3,115.14 L360.61,115.12 L360.92,115.11 L361.22,115.1 L361.53,115.09 L361.84,115.08 L362.15,115.07 L362.46,115.07 L362.77,115.06 L363.07,115.05 L363.38,115.04 L363.69,115.03 L364,115.02 L364.31,115.02 L364.62,115.01 L364.92,115 L365.23,115 L365.54,114.99 L365.85,114.98 L366.16,114.98 L366.46,114.97 L366.77,114.97 L367.08,114.96 L367.39,114.96 L367.7,114.95 L368.01,114.95 L368.31,114.95 L368.62,114.95 L368.93,114.94 L369.24,114.94 L369.55,114.94 L369.86,114.94 L370.16,114.94 L370.47,114.94 L370.78,114.94 L371.09,114.94 L371.4,114.95 L371.71,114.95 L372.01,114.96 L372.32,114.97 L372.63,114.99 L372.94,115 L373.25,115.02 L373.55,115.04 L373.86,115.06 L374.17,115.08 L374.48,115.1 L374.79,115.13 L375.1,115.15 L375.4,115.18 L375.71,115.2 L376.02,115.23 L376.33,115.26 L376.64,115.29 L376.95,115.32 L377.25,115.35 L377.56,115.38 L377.87,115.41 L378.18,115.44 L378.49,115.47 L378.8,115.5 L379.1,115.53 L379.41,115.56 L379.72,115.59 L380.03,115.62 L380.34,115.65 L380.65,115.68 L380.95,115.71 L381.26,115.73 L381.57,115.76 L381.88,115.79 L382.19,115.81 L382.49,115.83 L382.8,115.86 L383.11,115.88 L383.42,115.9 L383.73,115.92 L384.04,115.94 L384.34,115.96 L384.65,115.98 L384.96,116 L385.27,116.02 L385.58,116.04 L385.89,116.06 L386.19,116.08 L386.5,116.1 L386.81,116.12 L387.12,116.14 L387.43,116.16 L387.74,116.18 L388.04,116.2 L388.35,116.22 L388.66,116.24 L388.97,116.26 L389.28,116.28 L389.58,116.3 L389.89,116.32 L390.2,116.34 L390.51,116.36 L390.82,116.38 L391.13,116.4 L391.43,116.42 L391.74,116.44 L392.05,116.46 L392.36,116.47 L392.67,116.49 L392.98,116.51 L393.28,116.53 L393.59,116.55 L393.9,116.57 L394.21,116.58 L394.52,116.6 L394.83,116.62 L395.13,116.64 L395.44,116.66 L395.75,116.67 L396.06,116.69 L396.37,116.71 L396.68,116.73 L396.98,116.74 L397.29,116.76 L397.6,116.78" fill="none" stroke="#0a0a0a" stroke-width="1.9" stroke-linejoin="round"/>
<line x1="330.9" y1="185.5" x2="351.4" y2="185.5" stroke="#0a0a0a" stroke-width="1.9"/>
<line x1="330.9" y1="197.4" x2="351.4" y2="197.4" stroke="#8a8a8a" stroke-width="1.6" stroke-dasharray="6.8 2.2"/>
<text x="360.8" y="190" font-size="14.3" fill="#0a0a0a" stroke="#0a0a0a" stroke-width="0.27">sham</text>
<text x="360.8" y="202.1" font-size="14.3" fill="#0a0a0a" stroke="#0a0a0a" stroke-width="0.27">mcao</text>
<path d="M471.2,25.7 V210.7 H595" fill="none" stroke="#0a0a0a" stroke-width="1.6" stroke-linejoin="miter"/>
<line x1="467.4" y1="26.5" x2="471.2" y2="26.5" stroke="#0a0a0a" stroke-width="1.3"/>
<text x="465.4" y="31.2" font-size="13.1" text-anchor="end" fill="#0a0a0a" stroke="#0a0a0a" stroke-width="0.25">15</text>
<line x1="467.4" y1="57.2" x2="471.2" y2="57.2" stroke="#0a0a0a" stroke-width="1.3"/>
<text x="465.4" y="61.9" font-size="13.1" text-anchor="end" fill="#0a0a0a" stroke="#0a0a0a" stroke-width="0.25">10</text>
<line x1="467.4" y1="87.9" x2="471.2" y2="87.9" stroke="#0a0a0a" stroke-width="1.3"/>
<text x="465.4" y="92.6" font-size="13.1" text-anchor="end" fill="#0a0a0a" stroke="#0a0a0a" stroke-width="0.25">5</text>
<line x1="467.4" y1="118.6" x2="471.2" y2="118.6" stroke="#0a0a0a" stroke-width="1.3"/>
<text x="465.4" y="123.3" font-size="13.1" text-anchor="end" fill="#0a0a0a" stroke="#0a0a0a" stroke-width="0.25">0</text>
<line x1="467.4" y1="149.3" x2="471.2" y2="149.3" stroke="#0a0a0a" stroke-width="1.3"/>
<text x="465.4" y="154" font-size="13.1" text-anchor="end" fill="#0a0a0a" stroke="#0a0a0a" stroke-width="0.25">-5</text>
<line x1="467.4" y1="180" x2="471.2" y2="180" stroke="#0a0a0a" stroke-width="1.3"/>
<text x="465.4" y="184.7" font-size="13.1" text-anchor="end" fill="#0a0a0a" stroke="#0a0a0a" stroke-width="0.25">-10</text>
<line x1="467.4" y1="210.7" x2="471.2" y2="210.7" stroke="#0a0a0a" stroke-width="1.3"/>
<text x="465.4" y="215.4" font-size="13.1" text-anchor="end" fill="#0a0a0a" stroke="#0a0a0a" stroke-width="0.25">-15</text>
<line x1="471.2" y1="210.7" x2="471.2" y2="214.1" stroke="#0a0a0a" stroke-width="1.3"/>
<text transform="translate(468.1 225.1) rotate(-45)" x="0" y="4.87" font-size="13.6" text-anchor="middle" fill="#0a0a0a" stroke="#0a0a0a" stroke-width="0.26">0</text>
<line x1="495.8" y1="210.7" x2="495.8" y2="214.1" stroke="#0a0a0a" stroke-width="1.3"/>
<text transform="translate(492.7 225.1) rotate(-45)" x="0" y="4.87" font-size="13.6" text-anchor="middle" fill="#0a0a0a" stroke="#0a0a0a" stroke-width="0.26">1</text>
<line x1="520.4" y1="210.7" x2="520.4" y2="214.1" stroke="#0a0a0a" stroke-width="1.3"/>
<text transform="translate(517.3 225.1) rotate(-45)" x="0" y="4.87" font-size="13.6" text-anchor="middle" fill="#0a0a0a" stroke="#0a0a0a" stroke-width="0.26">2</text>
<line x1="545" y1="210.7" x2="545" y2="214.1" stroke="#0a0a0a" stroke-width="1.3"/>
<text transform="translate(541.9 225.1) rotate(-45)" x="0" y="4.87" font-size="13.6" text-anchor="middle" fill="#0a0a0a" stroke="#0a0a0a" stroke-width="0.26">3</text>
<line x1="569.6" y1="210.7" x2="569.6" y2="214.1" stroke="#0a0a0a" stroke-width="1.3"/>
<text transform="translate(566.5 225.1) rotate(-45)" x="0" y="4.87" font-size="13.6" text-anchor="middle" fill="#0a0a0a" stroke="#0a0a0a" stroke-width="0.26">4</text>
<line x1="594.2" y1="210.7" x2="594.2" y2="214.1" stroke="#0a0a0a" stroke-width="1.3"/>
<text transform="translate(591.1 225.1) rotate(-45)" x="0" y="4.87" font-size="13.6" text-anchor="middle" fill="#0a0a0a" stroke="#0a0a0a" stroke-width="0.26">5</text>
<text x="470.4" y="20.8" font-size="17" font-weight="bold" fill="#0a0a0a" stroke="#0a0a0a" stroke-width="0.19">44d</text>
<text x="532.7" y="247" font-size="14.3" text-anchor="middle" fill="#0a0a0a" stroke="#0a0a0a" stroke-width="0.27">Time (ms)</text>
<text x="432.2" y="118.6" font-size="14.2" text-anchor="middle" fill="#0a0a0a" stroke="#0a0a0a" stroke-width="0.27" transform="rotate(-90 432.2 118.6)">Sciatic CMAP (mV)</text>
<path d="M471.2,119.83 L471.51,119.96 L471.82,120.09 L472.12,120.2 L472.43,120.3 L472.74,120.39 L473.05,120.47 L473.36,120.54 L473.67,120.6 L473.97,120.66 L474.28,120.7 L474.59,120.74 L474.9,120.77 L475.21,120.8 L475.52,120.82 L475.82,120.84 L476.13,120.85 L476.44,120.86 L476.75,120.87 L477.06,120.87 L477.37,120.87 L477.67,120.87 L477.98,120.87 L478.29,120.84 L478.6,120.75 L478.91,120.61 L479.22,120.44 L479.52,120.24 L479.83,120.01 L480.14,119.77 L480.45,119.52 L480.76,119.28 L481.06,119.05 L481.37,118.84 L481.68,118.65 L481.99,118.49 L482.3,118.32 L482.61,118.14 L482.91,117.96 L483.22,117.77 L483.53,117.59 L483.84,117.42 L484.15,117.25 L484.46,117.1 L484.76,116.96 L485.07,116.85 L485.38,116.75 L485.69,116.68 L486,116.64 L486.31,116.64 L486.61,116.7 L486.92,116.84 L487.23,117.03 L487.54,117.27 L487.85,117.54 L488.15,117.84 L488.46,118.15 L488.77,118.46 L489.08,118.77 L489.39,119.06 L489.7,119.32 L490,119.53 L490.31,119.7 L490.62,119.8 L490.93,119.83 L491.24,119.82 L491.55,119.8 L491.85,119.77 L492.16,119.73 L492.47,119.68 L492.78,119.61 L493.09,119.54 L493.4,119.45 L493.7,119.35 L494.01,119.24 L494.32,118.59 L494.63,116.46 L494.94,113.1 L495.25,108.86 L495.55,104.04 L495.86,98.96 L496.17,93.95 L496.48,89.33 L496.79,85.42 L497.09,81.93 L497.4,78.41 L497.71,74.91 L498.02,71.48 L498.33,68.14 L498.64,64.95 L498.94,61.94 L499.25,59.16 L499.56,56.65 L499.87,54.4 L500.18,52.13 L500.49,49.83 L500.79,47.59 L501.1,45.49 L501.41,43.62 L501.72,42.05 L502.03,40.88 L502.34,40.17 L502.64,40.02 L502.95,40.3 L503.26,40.9 L503.57,41.76 L503.88,42.81 L504.18,44 L504.49,45.29 L504.8,47.09 L505.11,49.49 L505.42,52.37 L505.73,55.62 L506.03,59.13 L506.34,63.03 L506.65,67.88 L506.96,73.37 L507.27,79.16 L507.58,84.87 L507.88,90.52 L508.19,96.4 L508.5,102.37 L508.81,108.27 L509.12,113.94 L509.43,119.39 L509.73,124.86 L510.04,130.25 L510.35,135.42 L510.66,140.23 L510.97,144.53 L511.28,148.37 L511.58,152.05 L511.89,155.54 L512.2,158.74 L512.51,161.58 L512.82,163.97 L513.12,165.87 L513.43,167.66 L513.74,169.36 L514.05,170.88 L514.36,172.11 L514.67,172.93 L514.97,173.25 L515.28,172.84 L515.59,171.71 L515.9,170.09 L516.21,168.22 L516.52,166.34 L516.82,164.65 L517.13,162.88 L517.44,160.96 L517.75,158.95 L518.06,156.9 L518.37,154.86 L518.67,152.89 L518.98,151.02 L519.29,149.32 L519.6,147.8 L519.91,146.32 L520.22,144.87 L520.52,143.47 L520.83,142.14 L521.14,140.87 L521.45,139.68 L521.76,138.58 L522.06,137.58 L522.37,136.7 L522.68,135.9 L522.99,135.13 L523.3,134.41 L523.61,133.72 L523.91,133.07 L524.22,132.45 L524.53,131.87 L524.84,131.32 L525.15,130.79 L525.46,130.29 L525.76,129.81 L526.07,129.36 L526.38,128.93 L526.69,128.52 L527,128.14 L527.31,127.77 L527.61,127.43 L527.92,127.12 L528.23,126.83 L528.54,126.57 L528.85,126.32 L529.15,126.09 L529.46,125.88 L529.77,125.67 L530.08,125.47 L530.39,125.29 L530.7,125.1 L531,124.93 L531.31,124.76 L531.62,124.59 L531.93,124.43 L532.24,124.26 L532.55,124.1 L532.85,123.93 L533.16,123.76 L533.47,123.59 L533.78,123.43 L534.09,123.26 L534.4,123.09 L534.7,122.93 L535.01,122.77 L535.32,122.61 L535.63,122.45 L535.94,122.29 L536.25,122.14 L536.55,121.99 L536.86,121.84 L537.17,121.69 L537.48,121.55 L537.79,121.41 L538.09,121.28 L538.4,121.15 L538.71,121.02 L539.02,120.9 L539.33,120.78 L539.64,120.67 L539.94,120.55 L540.25,120.44 L540.56,120.32 L540.87,120.21 L541.18,120.1 L541.49,119.99 L541.79,119.88 L542.1,119.77 L542.41,119.67 L542.72,119.57 L543.03,119.47 L543.34,119.37 L543.64,119.28 L543.95,119.19 L544.26,119.1 L544.57,119.02 L544.88,118.94 L545.18,118.87 L545.49,118.79 L545.8,118.73 L546.11,118.67 L546.42,118.61 L546.73,118.56 L547.03,118.5 L547.34,118.45 L547.65,118.4 L547.96,118.34 L548.27,118.29 L548.58,118.24 L548.88,118.19 L549.19,118.14 L549.5,118.09 L549.81,118.04 L550.12,117.99 L550.43,117.95 L550.73,117.9 L551.04,117.86 L551.35,117.81 L551.66,117.77 L551.97,117.73 L552.28,117.69 L552.58,117.66 L552.89,117.62 L553.2,117.59 L553.51,117.56 L553.82,117.53 L554.12,117.5 L554.43,117.48 L554.74,117.45 L555.05,117.43 L555.36,117.42 L555.67,117.4 L555.97,117.39 L556.28,117.38 L556.59,117.38 L556.9,117.37 L557.21,117.37 L557.52,117.37 L557.82,117.37 L558.13,117.37 L558.44,117.37 L558.75,117.37 L559.06,117.37 L559.37,117.37 L559.67,117.37 L559.98,117.37 L560.29,117.37 L560.6,117.37 L560.91,117.37 L561.22,117.37 L561.52,117.37 L561.83,117.37 L562.14,117.37 L562.45,117.37 L562.76,117.37 L563.06,117.37 L563.37,117.37 L563.68,117.37 L563.99,117.37 L564.3,117.37 L564.61,117.37 L564.91,117.37 L565.22,117.37 L565.53,117.37 L565.84,117.37 L566.15,117.37 L566.46,117.37 L566.76,117.37 L567.07,117.37 L567.38,117.37 L567.69,117.37 L568,117.37 L568.31,117.37 L568.61,117.37 L568.92,117.37 L569.23,117.37 L569.54,117.37 L569.85,117.37 L570.15,117.37 L570.46,117.37 L570.77,117.37 L571.08,117.37 L571.39,117.37 L571.7,117.37 L572,117.37 L572.31,117.37 L572.62,117.37 L572.93,117.37 L573.24,117.37 L573.55,117.37 L573.85,117.37 L574.16,117.37 L574.47,117.37 L574.78,117.37 L575.09,117.37 L575.4,117.37 L575.7,117.37 L576.01,117.37 L576.32,117.37 L576.63,117.37 L576.94,117.37 L577.25,117.37 L577.55,117.37 L577.86,117.37 L578.17,117.37 L578.48,117.33 L578.79,117.19 L579.09,116.95 L579.4,116.65 L579.71,116.28 L580.02,115.87 L580.33,115.43 L580.64,114.97 L580.94,114.51 L581.25,114.06 L581.56,113.64 L581.87,113.26 L582.18,112.94 L582.49,112.69 L582.79,112.53 L583.1,112.46 L583.41,112.51 L583.72,112.67 L584.03,112.92 L584.34,113.25 L584.64,113.65 L584.95,114.09 L585.26,114.57 L585.57,115.07 L585.88,115.58 L586.18,116.07 L586.49,116.54 L586.8,116.97 L587.11,117.34 L587.42,117.65 L587.73,117.86 L588.03,117.98 L588.34,118.04 L588.65,118.1 L588.96,118.15 L589.27,118.2 L589.58,118.24 L589.88,118.29 L590.19,118.33 L590.5,118.37 L590.81,118.4 L591.12,118.44 L591.43,118.47 L591.73,118.5 L592.04,118.52 L592.35,118.54 L592.66,118.56 L592.97,118.57 L593.28,118.58 L593.58,118.59 L593.89,118.6 L594.2,118.6" fill="none" stroke="#8a8a8a" stroke-width="1.6" stroke-linejoin="round" stroke-dasharray="6.8 2.2"/>
<path d="M471.2,119.83 L471.51,119.96 L471.82,120.09 L472.12,120.2 L472.43,120.3 L472.74,120.39 L473.05,120.47 L473.36,120.54 L473.67,120.6 L473.97,120.66 L474.28,120.7 L474.59,120.74 L474.9,120.77 L475.21,120.8 L475.52,120.82 L475.82,120.84 L476.13,120.85 L476.44,120.86 L476.75,120.87 L477.06,120.87 L477.37,120.87 L477.67,120.87 L477.98,120.87 L478.29,120.84 L478.6,120.75 L478.91,120.61 L479.22,120.44 L479.52,120.24 L479.83,120.01 L480.14,119.77 L480.45,119.52 L480.76,119.28 L481.06,119.05 L481.37,118.84 L481.68,118.65 L481.99,118.49 L482.3,118.32 L482.61,118.14 L482.91,117.96 L483.22,117.77 L483.53,117.59 L483.84,117.42 L484.15,117.25 L484.46,117.1 L484.76,116.96 L485.07,116.85 L485.38,116.75 L485.69,116.68 L486,116.64 L486.31,116.64 L486.61,116.67 L486.92,116.75 L487.23,116.86 L487.54,117.01 L487.85,117.19 L488.15,117.4 L488.46,117.63 L488.77,117.9 L489.08,118.18 L489.39,118.48 L489.7,118.8 L490,119.13 L490.31,119.48 L490.62,119.83 L490.93,120.19 L491.24,120.65 L491.55,121.24 L491.85,121.92 L492.16,122.68 L492.47,123.48 L492.78,124.3 L493.09,125.12 L493.4,125.9 L493.7,126.61 L494.01,127.28 L494.32,128.03 L494.63,128.82 L494.94,129.58 L495.25,130.25 L495.55,130.77 L495.86,131.07 L496.17,131.07 L496.48,130.54 L496.79,129.49 L497.09,128.05 L497.4,126.3 L497.71,124.34 L498.02,122.13 L498.33,118.66 L498.64,114.13 L498.94,109.08 L499.25,104.04 L499.56,99.49 L499.87,95.1 L500.18,90.64 L500.49,86.18 L500.79,81.81 L501.1,77.59 L501.41,73.6 L501.72,69.92 L502.03,66.34 L502.34,62.76 L502.64,59.31 L502.95,56.16 L503.26,53.44 L503.57,51.31 L503.88,49.73 L504.18,48.27 L504.49,47.11 L504.8,46.5 L505.11,46.82 L505.42,48.52 L505.73,51.17 L506.03,54.33 L506.34,58.15 L506.65,63.89 L506.96,70.81 L507.27,78.07 L507.58,84.81 L507.88,90.84 L508.19,96.8 L508.5,102.66 L508.81,108.39 L509.12,113.95 L509.43,119.4 L509.73,124.91 L510.04,130.35 L510.35,135.55 L510.66,140.35 L510.97,144.57 L511.28,148.25 L511.58,151.77 L511.89,155.08 L512.2,158.08 L512.51,160.71 L512.82,162.89 L513.12,164.56 L513.43,166.1 L513.74,167.55 L514.05,168.82 L514.36,169.85 L514.67,170.53 L514.97,170.79 L515.28,170.46 L515.59,169.51 L515.9,168.16 L516.21,166.58 L516.52,164.97 L516.82,163.5 L517.13,161.92 L517.44,160.18 L517.75,158.35 L518.06,156.45 L518.37,154.55 L518.67,152.69 L518.98,150.93 L519.29,149.3 L519.6,147.82 L519.91,146.37 L520.22,144.94 L520.52,143.54 L520.83,142.2 L521.14,140.91 L521.45,139.71 L521.76,138.6 L522.06,137.59 L522.37,136.7 L522.68,135.89 L522.99,135.09 L523.3,134.33 L523.61,133.6 L523.91,132.9 L524.22,132.24 L524.53,131.62 L524.84,131.05 L525.15,130.52 L525.46,130.05 L525.76,129.63 L526.07,129.27 L526.38,128.97 L526.69,128.72 L527,128.52 L527.31,128.33 L527.61,128.17 L527.92,128 L528.23,127.82 L528.54,127.61 L528.85,127.38 L529.15,127.13 L529.46,126.87 L529.77,126.59 L530.08,126.31 L530.39,126.03 L530.7,125.74 L531,125.45 L531.31,125.17 L531.62,124.9 L531.93,124.63 L532.24,124.38 L532.55,124.15 L532.85,123.94 L533.16,123.75 L533.47,123.56 L533.78,123.38 L534.09,123.2 L534.4,123.02 L534.7,122.86 L535.01,122.69 L535.32,122.53 L535.63,122.38 L535.94,122.23 L536.25,122.08 L536.55,121.93 L536.86,121.79 L537.17,121.66 L537.48,121.52 L537.79,121.39 L538.09,121.27 L538.4,121.14 L538.71,121.02 L539.02,120.9 L539.33,120.78 L539.64,120.67 L539.94,120.55 L540.25,120.44 L540.56,120.32 L540.87,120.21 L541.18,120.1 L541.49,119.99 L541.79,119.88 L542.1,119.77 L542.41,119.67 L542.72,119.57 L543.03,119.47 L543.34,119.37 L543.64,119.28 L543.95,119.19 L544.26,119.1 L544.57,119.02 L544.88,118.94 L545.18,118.87 L545.49,118.79 L545.8,118.73 L546.11,118.67 L546.42,118.61 L546.73,118.56 L547.03,118.5 L547.34,118.45 L547.65,118.4 L547.96,118.34 L548.27,118.29 L548.58,118.24 L548.88,118.19 L549.19,118.14 L549.5,118.09 L549.81,118.04 L550.12,117.99 L550.43,117.95 L550.73,117.9 L551.04,117.86 L551.35,117.81 L551.66,117.77 L551.97,117.73 L552.28,117.69 L552.58,117.66 L552.89,117.62 L553.2,117.59 L553.51,117.56 L553.82,117.53 L554.12,117.5 L554.43,117.48 L554.74,117.45 L555.05,117.43 L555.36,117.42 L555.67,117.4 L555.97,117.39 L556.28,117.38 L556.59,117.38 L556.9,117.37 L557.21,117.37 L557.52,117.37 L557.82,117.37 L558.13,117.37 L558.44,117.37 L558.75,117.37 L559.06,117.37 L559.37,117.37 L559.67,117.37 L559.98,117.37 L560.29,117.37 L560.6,117.37 L560.91,117.37 L561.22,117.37 L561.52,117.37 L561.83,117.37 L562.14,117.37 L562.45,117.37 L562.76,117.37 L563.06,117.37 L563.37,117.37 L563.68,117.37 L563.99,117.37 L564.3,117.37 L564.61,117.37 L564.91,117.37 L565.22,117.37 L565.53,117.37 L565.84,117.37 L566.15,117.37 L566.46,117.37 L566.76,117.37 L567.07,117.37 L567.38,117.37 L567.69,117.37 L568,117.37 L568.31,117.37 L568.61,117.37 L568.92,117.37 L569.23,117.37 L569.54,117.37 L569.85,117.37 L570.15,117.37 L570.46,117.38 L570.77,117.38 L571.08,117.39 L571.39,117.4 L571.7,117.41 L572,117.42 L572.31,117.44 L572.62,117.45 L572.93,117.47 L573.24,117.48 L573.55,117.5 L573.85,117.52 L574.16,117.54 L574.47,117.56 L574.78,117.58 L575.09,117.61 L575.4,117.63 L575.7,117.65 L576.01,117.68 L576.32,117.7 L576.63,117.73 L576.94,117.75 L577.25,117.78 L577.55,117.81 L577.86,117.83 L578.17,117.86 L578.48,117.88 L578.79,117.91 L579.09,117.94 L579.4,117.96 L579.71,117.99 L580.02,118.01 L580.33,118.04 L580.64,118.06 L580.94,118.09 L581.25,118.11 L581.56,118.13 L581.87,118.15 L582.18,118.17 L582.49,118.19 L582.79,118.21 L583.1,118.23 L583.41,118.25 L583.72,118.26 L584.03,118.28 L584.34,118.29 L584.64,118.3 L584.95,118.32 L585.26,118.33 L585.57,118.34 L585.88,118.35 L586.18,118.36 L586.49,118.38 L586.8,118.39 L587.11,118.4 L587.42,118.41 L587.73,118.42 L588.03,118.43 L588.34,118.44 L588.65,118.45 L588.96,118.46 L589.27,118.47 L589.58,118.48 L589.88,118.49 L590.19,118.5 L590.5,118.51 L590.81,118.52 L591.12,118.53 L591.43,118.54 L591.73,118.54 L592.04,118.55 L592.35,118.56 L592.66,118.57 L592.97,118.57 L593.28,118.58 L593.58,118.59 L593.89,118.59 L594.2,118.6" fill="none" stroke="#0a0a0a" stroke-width="1.9" stroke-linejoin="round"/>
<line x1="523.9" y1="185.5" x2="544.4" y2="185.5" stroke="#0a0a0a" stroke-width="1.9"/>
<line x1="523.9" y1="197.4" x2="544.4" y2="197.4" stroke="#8a8a8a" stroke-width="1.6" stroke-dasharray="6.8 2.2"/>
<text x="553.8" y="190" font-size="14.3" fill="#0a0a0a" stroke="#0a0a0a" stroke-width="0.27">sham</text>
<text x="553.8" y="202.1" font-size="14.3" fill="#0a0a0a" stroke="#0a0a0a" stroke-width="0.27">mcao</text>
<rect x="90.45" y="493.3" width="14.3" height="109.3" fill="#fff" stroke="#0a0a0a" stroke-width="2.9"/>
<line x1="97.6" y1="477.7" x2="97.6" y2="493.3" stroke="#0a0a0a" stroke-width="2.7"/>
<line x1="92" y1="477.7" x2="103.2" y2="477.7" stroke="#0a0a0a" stroke-width="2.7"/>
<circle cx="92.3" cy="422.6" r="3.0" fill="#0a0a0a"/>
<circle cx="103" cy="418.1" r="3.0" fill="#0a0a0a"/>
<circle cx="97.6" cy="444.3" r="3.0" fill="#0a0a0a"/>
<circle cx="97.6" cy="472.4" r="3.0" fill="#0a0a0a"/>
<circle cx="97.6" cy="496.5" r="3.0" fill="#0a0a0a"/>
<circle cx="97.6" cy="503.5" r="3.0" fill="#0a0a0a"/>
<circle cx="92.3" cy="512.5" r="3.0" fill="#0a0a0a"/>
<circle cx="103" cy="517.2" r="3.0" fill="#0a0a0a"/>
<circle cx="97.6" cy="528.9" r="3.0" fill="#0a0a0a"/>
<circle cx="103" cy="545.4" r="3.0" fill="#0a0a0a"/>
<circle cx="92.3" cy="549.7" r="3.0" fill="#0a0a0a"/>
<rect x="116.05" y="480.8" width="14.3" height="121.8" fill="#bdbdbd" stroke="#0a0a0a" stroke-width="2.9"/>
<line x1="123.2" y1="464.1" x2="123.2" y2="480.8" stroke="#0a0a0a" stroke-width="2.7"/>
<line x1="117.6" y1="464.1" x2="128.8" y2="464.1" stroke="#0a0a0a" stroke-width="2.7"/>
<path d="M120.1,403.19 H125.9 L123,408.56 Z" fill="#0a0a0a"/>
<path d="M120.1,415.29 H125.9 L123,420.65 Z" fill="#0a0a0a"/>
<path d="M120.1,431.39 H125.9 L123,436.75 Z" fill="#0a0a0a"/>
<path d="M120.1,457.69 H125.9 L123,463.06 Z" fill="#0a0a0a"/>
<path d="M120.1,485.89 H125.9 L123,491.25 Z" fill="#0a0a0a"/>
<path d="M120.1,508.19 H125.9 L123,513.56 Z" fill="#0a0a0a"/>
<path d="M114.9,516.39 H120.7 L117.8,521.75 Z" fill="#0a0a0a"/>
<path d="M125.4,520.49 H131.2 L128.3,525.86 Z" fill="#0a0a0a"/>
<path d="M120.1,545.09 H125.9 L123,550.46 Z" fill="#0a0a0a"/>
<rect x="157.95" y="506.6" width="14.3" height="96" fill="#fff" stroke="#0a0a0a" stroke-width="2.9"/>
<line x1="165.1" y1="493.2" x2="165.1" y2="506.6" stroke="#0a0a0a" stroke-width="2.7"/>
<line x1="159.5" y1="493.2" x2="170.7" y2="493.2" stroke="#0a0a0a" stroke-width="2.7"/>
<circle cx="164.9" cy="401.5" r="3.0" fill="#0a0a0a"/>
<circle cx="164.9" cy="461.9" r="3.0" fill="#0a0a0a"/>
<circle cx="159.4" cy="501.4" r="3.0" fill="#0a0a0a"/>
<circle cx="170.2" cy="507.2" r="3.0" fill="#0a0a0a"/>
<circle cx="164.9" cy="509.6" r="3.0" fill="#0a0a0a"/>
<circle cx="159.4" cy="512.5" r="3.0" fill="#0a0a0a"/>
<circle cx="164.9" cy="518.4" r="3.0" fill="#0a0a0a"/>
<circle cx="159.4" cy="528.9" r="3.0" fill="#0a0a0a"/>
<circle cx="164.9" cy="533" r="3.0" fill="#0a0a0a"/>
<circle cx="170.2" cy="532.8" r="3.0" fill="#0a0a0a"/>
<circle cx="164.9" cy="554.5" r="3.0" fill="#0a0a0a"/>
<rect x="183.55" y="496" width="14.3" height="106.6" fill="#bdbdbd" stroke="#0a0a0a" stroke-width="2.9"/>
<line x1="190.7" y1="487.5" x2="190.7" y2="496" stroke="#0a0a0a" stroke-width="2.7"/>
<line x1="185.1" y1="487.5" x2="196.3" y2="487.5" stroke="#0a0a0a" stroke-width="2.7"/>
<path d="M187.6,440.19 H193.4 L190.5,445.56 Z" fill="#0a0a0a"/>
<path d="M187.6,477.09 H193.4 L190.5,482.45 Z" fill="#0a0a0a"/>
<path d="M187.6,490.39 H193.4 L190.5,495.75 Z" fill="#0a0a0a"/>
<path d="M183.1,494.89 H188.9 L186,500.25 Z" fill="#0a0a0a"/>
<path d="M192.1,494.89 H197.9 L195,500.25 Z" fill="#0a0a0a"/>
<path d="M189.6,499.39 H195.4 L192.5,504.75 Z" fill="#0a0a0a"/>
<path d="M187.6,511.89 H193.4 L190.5,517.25 Z" fill="#0a0a0a"/>
<path d="M187.6,525.19 H193.4 L190.5,530.55 Z" fill="#0a0a0a"/>
<rect x="225.55" y="492.5" width="14.3" height="110.1" fill="#fff" stroke="#0a0a0a" stroke-width="2.9"/>
<line x1="232.7" y1="476.8" x2="232.7" y2="492.5" stroke="#0a0a0a" stroke-width="2.7"/>
<line x1="227.1" y1="476.8" x2="238.3" y2="476.8" stroke="#0a0a0a" stroke-width="2.7"/>
<circle cx="232.8" cy="404.1" r="3.0" fill="#0a0a0a"/>
<circle cx="232.8" cy="437.5" r="3.0" fill="#0a0a0a"/>
<circle cx="232.8" cy="454.1" r="3.0" fill="#0a0a0a"/>
<circle cx="232.8" cy="484.1" r="3.0" fill="#0a0a0a"/>
<circle cx="238.4" cy="492.6" r="3.0" fill="#0a0a0a"/>
<circle cx="227.2" cy="498.4" r="3.0" fill="#0a0a0a"/>
<circle cx="238" cy="526" r="3.0" fill="#0a0a0a"/>
<circle cx="227.2" cy="528.9" r="3.0" fill="#0a0a0a"/>
<circle cx="238" cy="539.8" r="3.0" fill="#0a0a0a"/>
<circle cx="227.2" cy="545.7" r="3.0" fill="#0a0a0a"/>
<rect x="251.35" y="467.1" width="14.3" height="135.5" fill="#bdbdbd" stroke="#0a0a0a" stroke-width="2.9"/>
<line x1="258.5" y1="454.5" x2="258.5" y2="467.1" stroke="#0a0a0a" stroke-width="2.7"/>
<line x1="252.9" y1="454.5" x2="264.1" y2="454.5" stroke="#0a0a0a" stroke-width="2.7"/>
<path d="M255.6,398.79 H261.4 L258.5,404.15 Z" fill="#0a0a0a"/>
<path d="M255.6,418.79 H261.4 L258.5,424.15 Z" fill="#0a0a0a"/>
<path d="M255.6,438.39 H261.4 L258.5,443.75 Z" fill="#0a0a0a"/>
<path d="M255.6,456.59 H261.4 L258.5,461.95 Z" fill="#0a0a0a"/>
<path d="M255.6,468.29 H261.4 L258.5,473.65 Z" fill="#0a0a0a"/>
<path d="M253.1,474.69 H258.9 L256,480.06 Z" fill="#0a0a0a"/>
<path d="M258.3,474.69 H264.1 L261.2,480.06 Z" fill="#0a0a0a"/>
<path d="M255.6,497.59 H261.4 L258.5,502.95 Z" fill="#0a0a0a"/>
<path d="M249.5,499.89 H255.3 L252.4,505.25 Z" fill="#0a0a0a"/>
<path d="M261.9,499.89 H267.7 L264.8,505.25 Z" fill="#0a0a0a"/>
<path d="M76.1,309.2 V602.6 H280" fill="none" stroke="#0a0a0a" stroke-width="3.0"/>
<line x1="68.1" y1="310.7" x2="76.1" y2="310.7" stroke="#0a0a0a" stroke-width="3.0"/>
<text x="66.3" y="319.3" font-size="24.3" text-anchor="end" fill="#0a0a0a" stroke="#0a0a0a" stroke-width="0.46">30</text>
<line x1="68.1" y1="359.35" x2="76.1" y2="359.35" stroke="#0a0a0a" stroke-width="3.0"/>
<text x="66.3" y="367.95" font-size="24.3" text-anchor="end" fill="#0a0a0a" stroke="#0a0a0a" stroke-width="0.46">25</text>
<line x1="68.1" y1="408" x2="76.1" y2="408" stroke="#0a0a0a" stroke-width="3.0"/>
<text x="66.3" y="416.6" font-size="24.3" text-anchor="end" fill="#0a0a0a" stroke="#0a0a0a" stroke-width="0.46">20</text>
<line x1="68.1" y1="456.65" x2="76.1" y2="456.65" stroke="#0a0a0a" stroke-width="3.0"/>
<text x="66.3" y="465.25" font-size="24.3" text-anchor="end" fill="#0a0a0a" stroke="#0a0a0a" stroke-width="0.46">15</text>
<line x1="68.1" y1="505.3" x2="76.1" y2="505.3" stroke="#0a0a0a" stroke-width="3.0"/>
<text x="66.3" y="513.9" font-size="24.3" text-anchor="end" fill="#0a0a0a" stroke="#0a0a0a" stroke-width="0.46">10</text>
<line x1="68.1" y1="553.95" x2="76.1" y2="553.95" stroke="#0a0a0a" stroke-width="3.0"/>
<text x="66.3" y="562.55" font-size="24.3" text-anchor="end" fill="#0a0a0a" stroke="#0a0a0a" stroke-width="0.46">5</text>
<line x1="68.1" y1="602.6" x2="76.1" y2="602.6" stroke="#0a0a0a" stroke-width="3.0"/>
<text x="66.3" y="611.2" font-size="24.3" text-anchor="end" fill="#0a0a0a" stroke="#0a0a0a" stroke-width="0.46">0</text>
<line x1="110.3" y1="602.6" x2="110.3" y2="611.2" stroke="#0a0a0a" stroke-width="2.8"/>
<line x1="177.7" y1="602.6" x2="177.7" y2="611.2" stroke="#0a0a0a" stroke-width="2.8"/>
<line x1="245.4" y1="602.6" x2="245.4" y2="611.2" stroke="#0a0a0a" stroke-width="2.8"/>
<text transform="translate(99.6 632.9) rotate(-45)" x="0" y="8.41" font-size="23.5" text-anchor="middle" fill="#0a0a0a" stroke="#0a0a0a" stroke-width="0.44">10</text>
<text transform="translate(167.1 632.9) rotate(-45)" x="0" y="8.41" font-size="23.5" text-anchor="middle" fill="#0a0a0a" stroke="#0a0a0a" stroke-width="0.44">22</text>
<text transform="translate(234.6 632.9) rotate(-45)" x="0" y="8.41" font-size="23.5" text-anchor="middle" fill="#0a0a0a" stroke="#0a0a0a" stroke-width="0.44">44</text>
<text x="12" y="301.8" font-size="25.5" font-weight="bold" fill="#0a0a0a" stroke="#0a0a0a" stroke-width="0.29">b</text>
<text x="179" y="676.5" font-size="23.8" text-anchor="middle" fill="#0a0a0a" stroke="#0a0a0a" stroke-width="0.45">Days after stroke</text>
<text x="20.4" y="454.8" font-size="23.9" text-anchor="middle" fill="#0a0a0a" stroke="#0a0a0a" stroke-width="0.45" transform="rotate(-90 20.4 454.8)">Sciatic CMAP (mV)</text>
<rect x="91.3" y="312.2" width="32.1" height="16.3" fill="#fff" stroke="#0a0a0a" stroke-width="2.8"/>
<rect x="91.3" y="337.9" width="32.1" height="16.3" fill="#bdbdbd" stroke="#0a0a0a" stroke-width="2.8"/>
<text x="142.1" y="327.4" font-size="24" fill="#0a0a0a" stroke="#0a0a0a" stroke-width="0.45">sham</text>
<text x="142.1" y="353.2" font-size="24" fill="#0a0a0a" stroke="#0a0a0a" stroke-width="0.45">mcao</text>
<rect x="403.45" y="432.4" width="14.3" height="170.5" fill="#fff" stroke="#0a0a0a" stroke-width="2.9"/>
<line x1="410.6" y1="425.5" x2="410.6" y2="432.4" stroke="#0a0a0a" stroke-width="2.7"/>
<line x1="405" y1="425.5" x2="416.2" y2="425.5" stroke="#0a0a0a" stroke-width="2.7"/>
<circle cx="410.8" cy="391.1" r="3.0" fill="#0a0a0a"/>
<circle cx="410.8" cy="419.2" r="3.0" fill="#0a0a0a"/>
<circle cx="408.1" cy="425.3" r="3.0" fill="#0a0a0a"/>
<circle cx="413.6" cy="425.3" r="3.0" fill="#0a0a0a"/>
<circle cx="410.8" cy="422.3" r="3.0" fill="#0a0a0a"/>
<circle cx="410.8" cy="428.3" r="3.0" fill="#0a0a0a"/>
<circle cx="406.1" cy="442.4" r="3.0" fill="#0a0a0a"/>
<circle cx="410.8" cy="440.4" r="3.0" fill="#0a0a0a"/>
<circle cx="415.6" cy="442.4" r="3.0" fill="#0a0a0a"/>
<circle cx="408" cy="444.9" r="3.0" fill="#0a0a0a"/>
<circle cx="413.6" cy="444.9" r="3.0" fill="#0a0a0a"/>
<rect x="429.35" y="430.9" width="14.3" height="172" fill="#bdbdbd" stroke="#0a0a0a" stroke-width="2.9"/>
<line x1="436.5" y1="425.8" x2="436.5" y2="430.9" stroke="#0a0a0a" stroke-width="2.7"/>
<line x1="430.9" y1="425.8" x2="442.1" y2="425.8" stroke="#0a0a0a" stroke-width="2.7"/>
<path d="M433.3,375.89 H439.1 L436.2,381.25 Z" fill="#0a0a0a"/>
<path d="M438.6,416.59 H444.4 L441.5,421.95 Z" fill="#0a0a0a"/>
<path d="M433.3,418.69 H439.1 L436.2,424.06 Z" fill="#0a0a0a"/>
<path d="M430.3,421.19 H436.1 L433.2,426.56 Z" fill="#0a0a0a"/>
<path d="M427.3,424.19 H433.1 L430.2,429.56 Z" fill="#0a0a0a"/>
<path d="M438.3,427.19 H444.1 L441.2,432.56 Z" fill="#0a0a0a"/>
<path d="M436.3,432.69 H442.1 L439.2,438.06 Z" fill="#0a0a0a"/>
<path d="M430.6,432.69 H436.4 L433.5,438.06 Z" fill="#0a0a0a"/>
<path d="M433.3,449.29 H439.1 L436.2,454.65 Z" fill="#0a0a0a"/>
<path d="M433.3,464.39 H439.1 L436.2,469.75 Z" fill="#0a0a0a"/>
<rect x="471.15" y="433.9" width="14.3" height="169" fill="#fff" stroke="#0a0a0a" stroke-width="2.9"/>
<line x1="478.3" y1="425.1" x2="478.3" y2="433.9" stroke="#0a0a0a" stroke-width="2.7"/>
<line x1="472.7" y1="425.1" x2="483.9" y2="425.1" stroke="#0a0a0a" stroke-width="2.7"/>
<circle cx="478.3" cy="397.6" r="3.0" fill="#0a0a0a"/>
<circle cx="478.3" cy="408.4" r="3.0" fill="#0a0a0a"/>
<circle cx="472.8" cy="414.9" r="3.0" fill="#0a0a0a"/>
<circle cx="483.8" cy="415.4" r="3.0" fill="#0a0a0a"/>
<circle cx="478.3" cy="419.4" r="3.0" fill="#0a0a0a"/>
<circle cx="473.1" cy="438.8" r="3.0" fill="#0a0a0a"/>
<circle cx="478.3" cy="442.9" r="3.0" fill="#0a0a0a"/>
<circle cx="478.3" cy="451.4" r="3.0" fill="#0a0a0a"/>
<circle cx="478.3" cy="461.5" r="3.0" fill="#0a0a0a"/>
<circle cx="478.3" cy="471.5" r="3.0" fill="#0a0a0a"/>
<rect x="496.95" y="436.4" width="14.3" height="166.5" fill="#bdbdbd" stroke="#0a0a0a" stroke-width="2.9"/>
<line x1="504.1" y1="430.8" x2="504.1" y2="436.4" stroke="#0a0a0a" stroke-width="2.7"/>
<line x1="498.5" y1="430.8" x2="509.7" y2="430.8" stroke="#0a0a0a" stroke-width="2.7"/>
<path d="M500.8,397.89 H506.6 L503.7,403.25 Z" fill="#0a0a0a"/>
<path d="M500.8,420.69 H506.6 L503.7,426.06 Z" fill="#0a0a0a"/>
<path d="M500.8,427.39 H506.6 L503.7,432.75 Z" fill="#0a0a0a"/>
<path d="M498.8,441.29 H504.6 L501.7,446.65 Z" fill="#0a0a0a"/>
<path d="M502.8,443.79 H508.6 L505.7,449.15 Z" fill="#0a0a0a"/>
<path d="M500.8,462.39 H506.6 L503.7,467.75 Z" fill="#0a0a0a"/>
<rect x="538.65" y="435.4" width="14.3" height="167.5" fill="#fff" stroke="#0a0a0a" stroke-width="2.9"/>
<line x1="545.8" y1="428.8" x2="545.8" y2="435.4" stroke="#0a0a0a" stroke-width="2.7"/>
<line x1="540.2" y1="428.8" x2="551.4" y2="428.8" stroke="#0a0a0a" stroke-width="2.7"/>
<circle cx="543.9" cy="404.5" r="3.0" fill="#0a0a0a"/>
<circle cx="547.8" cy="409.9" r="3.0" fill="#0a0a0a"/>
<circle cx="541.1" cy="431.3" r="3.0" fill="#0a0a0a"/>
<circle cx="545.1" cy="430.3" r="3.0" fill="#0a0a0a"/>
<circle cx="549.1" cy="430.3" r="3.0" fill="#0a0a0a"/>
<circle cx="541.1" cy="435.3" r="3.0" fill="#0a0a0a"/>
<circle cx="541.1" cy="438.3" r="3.0" fill="#0a0a0a"/>
<circle cx="551.6" cy="441.4" r="3.0" fill="#0a0a0a"/>
<circle cx="544.1" cy="443.4" r="3.0" fill="#0a0a0a"/>
<circle cx="547.6" cy="446.4" r="3.0" fill="#0a0a0a"/>
<circle cx="545.6" cy="456.1" r="3.0" fill="#0a0a0a"/>
<rect x="564.35" y="436.2" width="14.3" height="166.7" fill="#bdbdbd" stroke="#0a0a0a" stroke-width="2.9"/>
<line x1="571.5" y1="431" x2="571.5" y2="436.2" stroke="#0a0a0a" stroke-width="2.7"/>
<line x1="565.9" y1="431" x2="577.1" y2="431" stroke="#0a0a0a" stroke-width="2.7"/>
<path d="M568.5,404.09 H574.3 L571.4,409.45 Z" fill="#0a0a0a"/>
<path d="M566.8,420.19 H572.6 L569.7,425.56 Z" fill="#0a0a0a"/>
<path d="M573.8,423.69 H579.6 L576.7,429.06 Z" fill="#0a0a0a"/>
<path d="M570.3,425.69 H576.1 L573.2,431.06 Z" fill="#0a0a0a"/>
<path d="M563.3,429.19 H569.1 L566.2,434.56 Z" fill="#0a0a0a"/>
<path d="M567.3,429.69 H573.1 L570.2,435.06 Z" fill="#0a0a0a"/>
<path d="M571.3,430.69 H577.1 L574.2,436.06 Z" fill="#0a0a0a"/>
<path d="M566.8,436.69 H572.6 L569.7,442.06 Z" fill="#0a0a0a"/>
<path d="M568.5,450.29 H574.3 L571.4,455.65 Z" fill="#0a0a0a"/>
<path d="M568.5,471.39 H574.3 L571.4,476.75 Z" fill="#0a0a0a"/>
<path d="M389,309.2 V602.9 H597" fill="none" stroke="#0a0a0a" stroke-width="3.0"/>
<line x1="381" y1="310.7" x2="389" y2="310.7" stroke="#0a0a0a" stroke-width="3.0"/>
<text x="379.2" y="319.7" font-size="24.6" text-anchor="end" fill="#0a0a0a" stroke="#0a0a0a" stroke-width="0.46">75</text>
<line x1="381" y1="408.1" x2="389" y2="408.1" stroke="#0a0a0a" stroke-width="3.0"/>
<text x="379.2" y="417.1" font-size="24.6" text-anchor="end" fill="#0a0a0a" stroke="#0a0a0a" stroke-width="0.46">50</text>
<line x1="381" y1="505.5" x2="389" y2="505.5" stroke="#0a0a0a" stroke-width="3.0"/>
<text x="379.2" y="514.5" font-size="24.6" text-anchor="end" fill="#0a0a0a" stroke="#0a0a0a" stroke-width="0.46">25</text>
<line x1="381" y1="602.9" x2="389" y2="602.9" stroke="#0a0a0a" stroke-width="3.0"/>
<text x="379.2" y="611.9" font-size="24.6" text-anchor="end" fill="#0a0a0a" stroke="#0a0a0a" stroke-width="0.46">0</text>
<line x1="423" y1="602.9" x2="423" y2="611.5" stroke="#0a0a0a" stroke-width="2.8"/>
<line x1="490.8" y1="602.9" x2="490.8" y2="611.5" stroke="#0a0a0a" stroke-width="2.8"/>
<line x1="558.6" y1="602.9" x2="558.6" y2="611.5" stroke="#0a0a0a" stroke-width="2.8"/>
<text transform="translate(412.4 632.9) rotate(-45)" x="0" y="8.41" font-size="23.5" text-anchor="middle" fill="#0a0a0a" stroke="#0a0a0a" stroke-width="0.44">10</text>
<text transform="translate(480 632.9) rotate(-45)" x="0" y="8.41" font-size="23.5" text-anchor="middle" fill="#0a0a0a" stroke="#0a0a0a" stroke-width="0.44">22</text>
<text transform="translate(547.6 632.9) rotate(-45)" x="0" y="8.41" font-size="23.5" text-anchor="middle" fill="#0a0a0a" stroke="#0a0a0a" stroke-width="0.44">44</text>
<text x="319" y="308.4" font-size="25.5" font-weight="bold" fill="#0a0a0a" stroke="#0a0a0a" stroke-width="0.29">c</text>
<text x="491.3" y="679.3" font-size="23.8" text-anchor="middle" fill="#0a0a0a" stroke="#0a0a0a" stroke-width="0.45">Days after stroke</text>
<text x="334.1" y="454.8" font-size="23.9" text-anchor="middle" fill="#0a0a0a" stroke="#0a0a0a" stroke-width="0.45" transform="rotate(-90 334.1 454.8)">Sciativ MCV (m/s)</text>
<rect x="402.8" y="309.6" width="32.1" height="16.3" fill="#fff" stroke="#0a0a0a" stroke-width="2.8"/>
<rect x="402.8" y="334" width="32.1" height="16.3" fill="#bdbdbd" stroke="#0a0a0a" stroke-width="2.8"/>
<text x="453.6" y="324.8" font-size="24" fill="#0a0a0a" stroke="#0a0a0a" stroke-width="0.45">sham</text>
<text x="453.6" y="349.3" font-size="24" fill="#0a0a0a" stroke="#0a0a0a" stroke-width="0.45">mcao</text>
<path d="M76,760.35 V1055.4 H515.6 V760.35" fill="none" stroke="#0a0a0a" stroke-width="2.9"/>
<line x1="70.8" y1="761.8" x2="76" y2="761.8" stroke="#0a0a0a" stroke-width="2.7"/>
<text x="64.5" y="770.2" font-size="24.3" text-anchor="end" fill="#0a0a0a" stroke="#0a0a0a" stroke-width="0.46">2</text>
<line x1="515.6" y1="761.8" x2="524.3" y2="761.8" stroke="#0a0a0a" stroke-width="2.7"/>
<text x="526.8" y="770" font-size="22.6" fill="#0a0a0a" stroke="#0a0a0a" stroke-width="0.42">20</text>
<line x1="70.8" y1="835.2" x2="76" y2="835.2" stroke="#0a0a0a" stroke-width="2.7"/>
<text x="64.5" y="843.6" font-size="24.3" text-anchor="end" fill="#0a0a0a" stroke="#0a0a0a" stroke-width="0.46">1</text>
<line x1="515.6" y1="835.2" x2="524.3" y2="835.2" stroke="#0a0a0a" stroke-width="2.7"/>
<text x="526.8" y="843.4" font-size="22.6" fill="#0a0a0a" stroke="#0a0a0a" stroke-width="0.42">10</text>
<line x1="70.8" y1="908.6" x2="76" y2="908.6" stroke="#0a0a0a" stroke-width="2.7"/>
<text x="64.5" y="917" font-size="24.3" text-anchor="end" fill="#0a0a0a" stroke="#0a0a0a" stroke-width="0.46">0</text>
<line x1="515.6" y1="908.6" x2="524.3" y2="908.6" stroke="#0a0a0a" stroke-width="2.7"/>
<text x="526.8" y="916.8" font-size="22.6" fill="#0a0a0a" stroke="#0a0a0a" stroke-width="0.42">0</text>
<line x1="70.8" y1="982" x2="76" y2="982" stroke="#0a0a0a" stroke-width="2.7"/>
<text x="64.5" y="990.4" font-size="24.3" text-anchor="end" fill="#0a0a0a" stroke="#0a0a0a" stroke-width="0.46">-1</text>
<line x1="515.6" y1="982" x2="524.3" y2="982" stroke="#0a0a0a" stroke-width="2.7"/>
<text x="526.8" y="990.2" font-size="22.6" fill="#0a0a0a" stroke="#0a0a0a" stroke-width="0.42">-10</text>
<line x1="70.8" y1="1055.4" x2="76" y2="1055.4" stroke="#0a0a0a" stroke-width="2.7"/>
<text x="64.5" y="1063.8" font-size="24.3" text-anchor="end" fill="#0a0a0a" stroke="#0a0a0a" stroke-width="0.46">-2</text>
<line x1="515.6" y1="1055.4" x2="524.3" y2="1055.4" stroke="#0a0a0a" stroke-width="2.7"/>
<text x="526.8" y="1063.6" font-size="22.6" fill="#0a0a0a" stroke="#0a0a0a" stroke-width="0.42">-20</text>
<line x1="76" y1="1055.4" x2="76" y2="1061" stroke="#0a0a0a" stroke-width="2.7"/>
<line x1="163.92" y1="1055.4" x2="163.92" y2="1061" stroke="#0a0a0a" stroke-width="2.7"/>
<line x1="251.84" y1="1055.4" x2="251.84" y2="1061" stroke="#0a0a0a" stroke-width="2.7"/>
<line x1="339.76" y1="1055.4" x2="339.76" y2="1061" stroke="#0a0a0a" stroke-width="2.7"/>
<line x1="427.68" y1="1055.4" x2="427.68" y2="1061" stroke="#0a0a0a" stroke-width="2.7"/>
<line x1="515.6" y1="1055.4" x2="515.6" y2="1061" stroke="#0a0a0a" stroke-width="2.7"/>
<text transform="translate(71.5 1081.4) rotate(-45)" x="0" y="8.41" font-size="23.5" text-anchor="middle" fill="#0a0a0a" stroke="#0a0a0a" stroke-width="0.44">0</text>
<text transform="translate(159.42 1081.4) rotate(-45)" x="0" y="8.41" font-size="23.5" text-anchor="middle" fill="#0a0a0a" stroke="#0a0a0a" stroke-width="0.44">2</text>
<text transform="translate(247.34 1081.4) rotate(-45)" x="0" y="8.41" font-size="23.5" text-anchor="middle" fill="#0a0a0a" stroke="#0a0a0a" stroke-width="0.44">4</text>
<text transform="translate(335.26 1081.4) rotate(-45)" x="0" y="8.41" font-size="23.5" text-anchor="middle" fill="#0a0a0a" stroke="#0a0a0a" stroke-width="0.44">6</text>
<text transform="translate(423.18 1081.4) rotate(-45)" x="0" y="8.41" font-size="23.5" text-anchor="middle" fill="#0a0a0a" stroke="#0a0a0a" stroke-width="0.44">8</text>
<text transform="translate(507.6 1084.9) rotate(-45)" x="0" y="8.41" font-size="23.5" text-anchor="middle" fill="#0a0a0a" stroke="#0a0a0a" stroke-width="0.44">10</text>
<text x="10.8" y="734" font-size="26" font-weight="bold" fill="#0a0a0a" stroke="#0a0a0a" stroke-width="0.29">d</text>
<text x="72.6" y="751.2" font-size="28" font-weight="bold" fill="#0a0a0a" stroke="#0a0a0a" stroke-width="0.32">sham+</text>
<text x="294.8" y="1124.7" font-size="23.6" text-anchor="middle" fill="#0a0a0a" stroke="#0a0a0a" stroke-width="0.44">Time (ms)</text>
<text x="26.5" y="906.3" font-size="24.4" text-anchor="middle" fill="#0a0a0a" stroke="#0a0a0a" stroke-width="0.46" transform="rotate(-90 26.5 906.3)">Sciatic CMAP (mV)</text>
<text x="579" y="909.5" font-size="24" text-anchor="middle" fill="#0a0a0a" stroke="#0a0a0a" stroke-width="0.45" transform="rotate(90 579 909.5)">Sciatic CMAP (mV)</text>
<path d="M76,911.54 L76.49,911.54 L76.98,911.54 L77.47,911.53 L77.96,911.53 L78.44,911.53 L78.93,911.53 L79.42,911.53 L79.91,911.52 L80.4,911.52 L80.89,911.51 L81.38,911.51 L81.87,911.51 L82.36,911.5 L82.85,911.49 L83.33,911.49 L83.82,911.48 L84.31,911.48 L84.8,911.47 L85.29,911.46 L85.78,911.45 L86.27,911.45 L86.76,911.44 L87.25,911.43 L87.74,911.42 L88.22,911.41 L88.71,911.4 L89.2,911.39 L89.69,911.38 L90.18,911.37 L90.67,911.36 L91.16,911.34 L91.65,911.33 L92.14,911.32 L92.63,911.31 L93.11,911.29 L93.6,911.28 L94.09,911.27 L94.58,911.25 L95.07,911.24 L95.56,911.22 L96.05,911.21 L96.54,911.19 L97.03,911.18 L97.52,911.16 L98,911.15 L98.49,911.13 L98.98,911.12 L99.47,911.1 L99.96,911.08 L100.45,911.06 L100.94,911.05 L101.43,911.03 L101.92,911.01 L102.41,910.99 L102.89,910.97 L103.38,910.96 L103.87,910.94 L104.36,910.92 L104.85,910.9 L105.34,910.88 L105.83,910.86 L106.32,910.84 L106.81,910.82 L107.3,910.8 L107.78,910.77 L108.27,910.74 L108.76,910.69 L109.25,910.65 L109.74,910.59 L110.23,910.54 L110.72,910.47 L111.21,910.41 L111.7,910.35 L112.19,910.28 L112.67,910.22 L113.16,910.16 L113.65,910.1 L114.14,910.04 L114.63,909.99 L115.12,909.95 L115.61,909.91 L116.1,909.88 L116.59,909.86 L117.07,909.85 L117.56,909.86 L118.05,909.93 L118.54,910.08 L119.03,910.28 L119.52,910.52 L120.01,910.8 L120.5,911.11 L120.99,911.43 L121.48,911.75 L121.96,912.07 L122.45,912.38 L122.94,912.65 L123.43,912.89 L123.92,913.09 L124.41,913.29 L124.9,913.5 L125.39,913.72 L125.88,913.93 L126.37,914.13 L126.85,914.32 L127.34,914.49 L127.83,914.64 L128.32,914.76 L128.81,914.85 L129.3,914.9 L129.79,914.9 L130.28,914.76 L130.77,914.47 L131.26,914.04 L131.74,913.5 L132.23,912.87 L132.72,912.16 L133.21,911.41 L133.7,910.61 L134.19,909.55 L134.68,908.18 L135.17,906.54 L135.66,904.66 L136.15,902.61 L136.63,900.41 L137.12,898.13 L137.61,895.79 L138.1,893.23 L138.59,890.36 L139.08,887.22 L139.57,883.87 L140.06,880.36 L140.55,876.73 L141.04,873.03 L141.52,869.26 L142.01,865.15 L142.5,860.77 L142.99,856.22 L143.48,851.62 L143.97,847.09 L144.46,842.74 L144.95,838.69 L145.44,834.91 L145.93,831.26 L146.41,827.72 L146.9,824.27 L147.39,820.92 L147.88,817.65 L148.37,814.46 L148.86,811.33 L149.35,808.11 L149.84,804.66 L150.33,801.44 L150.82,798.91 L151.3,797.48 L151.79,796.5 L152.28,795.68 L152.77,795.11 L153.26,794.84 L153.75,794.94 L154.24,795.39 L154.73,796.11 L155.22,797.02 L155.71,798.12 L156.19,800.17 L156.68,803.21 L157.17,806.91 L157.66,810.93 L158.15,814.94 L158.64,819 L159.13,823.46 L159.62,828.24 L160.11,833.22 L160.59,838.32 L161.08,843.43 L161.57,848.48 L162.06,853.63 L162.55,858.87 L163.04,864.18 L163.53,869.55 L164.02,874.96 L164.51,880.39 L165,885.87 L165.48,891.62 L165.97,897.45 L166.46,903.06 L166.95,908.16 L167.44,912.74 L167.93,917.09 L168.42,921.21 L168.91,925.12 L169.4,928.8 L169.89,932.27 L170.37,935.59 L170.86,938.9 L171.35,942.13 L171.84,945.14 L172.33,947.8 L172.82,950 L173.31,951.65 L173.8,953.14 L174.29,954.56 L174.78,955.87 L175.26,957.03 L175.75,957.99 L176.24,958.71 L176.73,959.14 L177.22,959.24 L177.71,959.21 L178.2,959.14 L178.69,959.02 L179.18,958.88 L179.67,958.69 L180.15,958.48 L180.64,958.25 L181.13,957.99 L181.62,957.7 L182.11,957.16 L182.6,956.31 L183.09,955.22 L183.58,953.94 L184.07,952.54 L184.56,951.06 L185.04,949.58 L185.53,948.14 L186.02,946.81 L186.51,945.63 L187,944.46 L187.49,943.25 L187.98,942.03 L188.47,940.8 L188.96,939.58 L189.45,938.37 L189.93,937.2 L190.42,936.06 L190.91,934.98 L191.4,933.97 L191.89,933.03 L192.38,932.19 L192.87,931.45 L193.36,930.79 L193.85,930.18 L194.34,929.6 L194.82,929.07 L195.31,928.56 L195.8,928.08 L196.29,927.62 L196.78,927.17 L197.27,926.74 L197.76,926.32 L198.25,925.91 L198.74,925.49 L199.22,925.07 L199.71,924.64 L200.2,924.2 L200.69,923.75 L201.18,923.29 L201.67,922.84 L202.16,922.39 L202.65,921.95 L203.14,921.51 L203.63,921.07 L204.11,920.63 L204.6,920.2 L205.09,919.77 L205.58,919.35 L206.07,918.93 L206.56,918.51 L207.05,918.1 L207.54,917.69 L208.03,917.26 L208.52,916.83 L209,916.4 L209.49,915.97 L209.98,915.54 L210.47,915.12 L210.96,914.71 L211.45,914.31 L211.94,913.92 L212.43,913.56 L212.92,913.21 L213.41,912.88 L213.89,912.59 L214.38,912.32 L214.87,912.07 L215.36,911.83 L215.85,911.6 L216.34,911.38 L216.83,911.16 L217.32,910.95 L217.81,910.74 L218.3,910.54 L218.78,910.35 L219.27,910.17 L219.76,909.99 L220.25,909.82 L220.74,909.66 L221.23,909.5 L221.72,909.35 L222.21,909.2 L222.7,909.07 L223.19,908.94 L223.67,908.81 L224.16,908.7 L224.65,908.59 L225.14,908.48 L225.63,908.38 L226.12,908.28 L226.61,908.18 L227.1,908.08 L227.59,907.99 L228.08,907.9 L228.56,907.81 L229.05,907.73 L229.54,907.65 L230.03,907.57 L230.52,907.49 L231.01,907.41 L231.5,907.34 L231.99,907.27 L232.48,907.2 L232.97,907.13 L233.45,907.07 L233.94,907.01 L234.43,906.95 L234.92,906.89 L235.41,906.83 L235.9,906.77 L236.39,906.72 L236.88,906.67 L237.37,906.61 L237.85,906.56 L238.34,906.51 L238.83,906.46 L239.32,906.41 L239.81,906.36 L240.3,906.31 L240.79,906.25 L241.28,906.2 L241.77,906.15 L242.26,906.1 L242.74,906.05 L243.23,906 L243.72,905.95 L244.21,905.91 L244.7,905.86 L245.19,905.81 L245.68,905.77 L246.17,905.73 L246.66,905.69 L247.15,905.65 L247.63,905.61 L248.12,905.57 L248.61,905.54 L249.1,905.5 L249.59,905.47 L250.08,905.44 L250.57,905.42 L251.06,905.39 L251.55,905.37 L252.04,905.35 L252.52,905.33 L253.01,905.32 L253.5,905.31 L253.99,905.3 L254.48,905.3 L254.97,905.3 L255.46,905.3 L255.95,905.31 L256.44,905.32 L256.93,905.34 L257.41,905.36 L257.9,905.38 L258.39,905.41 L258.88,905.44 L259.37,905.48 L259.86,905.52 L260.35,905.56 L260.84,905.6 L261.33,905.65 L261.82,905.7 L262.3,905.75 L262.79,905.8 L263.28,905.86 L263.77,905.91 L264.26,905.97 L264.75,906.03 L265.24,906.09 L265.73,906.15 L266.22,906.21 L266.71,906.27 L267.19,906.33 L267.68,906.39 L268.17,906.45 L268.66,906.51 L269.15,906.57 L269.64,906.63 L270.13,906.69 L270.62,906.74 L271.11,906.8 L271.6,906.85 L272.08,906.9 L272.57,906.95 L273.06,907 L273.55,907.04 L274.04,907.08 L274.53,907.12 L275.02,907.16 L275.51,907.19 L276,907.23 L276.48,907.26 L276.97,907.3 L277.46,907.33 L277.95,907.37 L278.44,907.4 L278.93,907.44 L279.42,907.47 L279.91,907.51 L280.4,907.54 L280.89,907.58 L281.37,907.61 L281.86,907.65 L282.35,907.68 L282.84,907.71 L283.33,907.75 L283.82,907.78 L284.31,907.81 L284.8,907.85 L285.29,907.88 L285.78,907.91 L286.26,907.94 L286.75,907.97 L287.24,908 L287.73,908.03 L288.22,908.06 L288.71,908.09 L289.2,908.12 L289.69,908.15 L290.18,908.18 L290.67,908.21 L291.15,908.23 L291.64,908.26 L292.13,908.28 L292.62,908.31 L293.11,908.33 L293.6,908.36 L294.09,908.38 L294.58,908.4 L295.07,908.43 L295.56,908.45 L296.04,908.47 L296.53,908.49 L297.02,908.51 L297.51,908.53 L298,908.54 L298.49,908.56 L298.98,908.58 L299.47,908.59 L299.96,908.61 L300.45,908.62 L300.93,908.63 L301.42,908.65 L301.91,908.66 L302.4,908.68 L302.89,908.69 L303.38,908.7 L303.87,908.72 L304.36,908.73 L304.85,908.74 L305.34,908.75 L305.82,908.77 L306.31,908.78 L306.8,908.79 L307.29,908.8 L307.78,908.82 L308.27,908.83 L308.76,908.84 L309.25,908.85 L309.74,908.86 L310.23,908.88 L310.71,908.89 L311.2,908.9 L311.69,908.91 L312.18,908.92 L312.67,908.93 L313.16,908.94 L313.65,908.95 L314.14,908.96 L314.63,908.97 L315.12,908.98 L315.6,908.99 L316.09,909 L316.58,909.01 L317.07,909.02 L317.56,909.03 L318.05,909.04 L318.54,909.05 L319.03,909.06 L319.52,909.07 L320,909.08 L320.49,909.09 L320.98,909.1 L321.47,909.11 L321.96,909.11 L322.45,909.12 L322.94,909.13 L323.43,909.14 L323.92,909.15 L324.41,909.16 L324.89,909.16 L325.38,909.17 L325.87,909.18 L326.36,909.19 L326.85,909.19 L327.34,909.2 L327.83,909.21 L328.32,909.21 L328.81,909.22 L329.3,909.23 L329.78,909.23 L330.27,909.24 L330.76,909.25 L331.25,909.25 L331.74,909.26 L332.23,909.26 L332.72,909.27 L333.21,909.27 L333.7,909.28 L334.19,909.28 L334.67,909.29 L335.16,909.29 L335.65,909.3 L336.14,909.3 L336.63,909.31 L337.12,909.31 L337.61,909.32 L338.1,909.32 L338.59,909.32 L339.08,909.33 L339.56,909.33 L340.05,909.34 L340.54,909.34 L341.03,909.34 L341.52,909.35 L342.01,909.35 L342.5,909.35 L342.99,909.36 L343.48,909.36 L343.97,909.36 L344.45,909.37 L344.94,909.37 L345.43,909.38 L345.92,909.38 L346.41,909.38 L346.9,909.39 L347.39,909.39 L347.88,909.39 L348.37,909.4 L348.86,909.4 L349.34,909.4 L349.83,909.41 L350.32,909.41 L350.81,909.41 L351.3,909.42 L351.79,909.42 L352.28,909.42 L352.77,909.43 L353.26,909.43 L353.75,909.43 L354.23,909.44 L354.72,909.44 L355.21,909.44 L355.7,909.44 L356.19,909.45 L356.68,909.45 L357.17,909.45 L357.66,909.46 L358.15,909.46 L358.63,909.46 L359.12,909.47 L359.61,909.47 L360.1,909.47 L360.59,909.48 L361.08,909.48 L361.57,909.48 L362.06,909.48 L362.55,909.49 L363.04,909.49 L363.52,909.49 L364.01,909.5 L364.5,909.5 L364.99,909.5 L365.48,909.5 L365.97,909.51 L366.46,909.51 L366.95,909.51 L367.44,909.52 L367.93,909.52 L368.41,909.52 L368.9,909.52 L369.39,909.53 L369.88,909.53 L370.37,909.53 L370.86,909.54 L371.35,909.54 L371.84,909.54 L372.33,909.54 L372.82,909.55 L373.3,909.55 L373.79,909.55 L374.28,909.55 L374.77,909.56 L375.26,909.56 L375.75,909.56 L376.24,909.56 L376.73,909.57 L377.22,909.57 L377.71,909.57 L378.19,909.57 L378.68,909.58 L379.17,909.58 L379.66,909.58 L380.15,909.58 L380.64,909.58 L381.13,909.59 L381.62,909.59 L382.11,909.59 L382.6,909.59 L383.08,909.6 L383.57,909.6 L384.06,909.6 L384.55,909.6 L385.04,909.6 L385.53,909.61 L386.02,909.61 L386.51,909.61 L387,909.61 L387.49,909.61 L387.97,909.62 L388.46,909.62 L388.95,909.62 L389.44,909.62 L389.93,909.62 L390.42,909.63 L390.91,909.63 L391.4,909.63 L391.89,909.63 L392.38,909.63 L392.86,909.64 L393.35,909.64 L393.84,909.64 L394.33,909.64 L394.82,909.64 L395.31,909.64 L395.8,909.65 L396.29,909.65 L396.78,909.65 L397.26,909.65 L397.75,909.65 L398.24,909.65 L398.73,909.66 L399.22,909.66 L399.71,909.66 L400.2,909.66 L400.69,909.66 L401.18,909.66 L401.67,909.66 L402.15,909.66 L402.64,909.67 L403.13,909.67 L403.62,909.67 L404.11,909.67 L404.6,909.67 L405.09,909.67 L405.58,909.67 L406.07,909.67 L406.56,909.68 L407.04,909.68 L407.53,909.68 L408.02,909.68 L408.51,909.68 L409,909.68 L409.49,909.68 L409.98,909.68 L410.47,909.68 L410.96,909.69 L411.45,909.69 L411.93,909.69 L412.42,909.69 L412.91,909.69 L413.4,909.69 L413.89,909.69 L414.38,909.69 L414.87,909.69 L415.36,909.69 L415.85,909.69 L416.34,909.69 L416.82,909.69 L417.31,909.69 L417.8,909.7 L418.29,909.7 L418.78,909.7 L419.27,909.7 L419.76,909.7 L420.25,909.7 L420.74,909.7 L421.23,909.7 L421.71,909.7 L422.2,909.7 L422.69,909.7 L423.18,909.7 L423.67,909.7 L424.16,909.7 L424.65,909.7 L425.14,909.7 L425.63,909.7 L426.12,909.7 L426.6,909.7 L427.09,909.7 L427.58,909.7 L428.07,909.7 L428.56,909.7 L429.05,909.7 L429.54,909.7 L430.03,909.7 L430.52,909.7 L431.01,909.7 L431.49,909.7 L431.98,909.7 L432.47,909.7 L432.96,909.7 L433.45,909.7 L433.94,909.7 L434.43,909.7 L434.92,909.7 L435.41,909.7 L435.89,909.7 L436.38,909.7 L436.87,909.7 L437.36,909.7 L437.85,909.7 L438.34,909.7 L438.83,909.7 L439.32,909.7 L439.81,909.7 L440.3,909.7 L440.78,909.7 L441.27,909.7 L441.76,909.7 L442.25,909.7 L442.74,909.7 L443.23,909.7 L443.72,909.7 L444.21,909.7 L444.7,909.7 L445.19,909.7 L445.67,909.7 L446.16,909.7 L446.65,909.7 L447.14,909.7 L447.63,909.7 L448.12,909.7 L448.61,909.7 L449.1,909.7 L449.59,909.7 L450.08,909.7 L450.56,909.7 L451.05,909.7 L451.54,909.7 L452.03,909.7 L452.52,909.7 L453.01,909.7 L453.5,909.7 L453.99,909.7 L454.48,909.7 L454.97,909.7 L455.45,909.7 L455.94,909.7 L456.43,909.7 L456.92,909.7 L457.41,909.7 L457.9,909.7 L458.39,909.7 L458.88,909.7 L459.37,909.7 L459.86,909.7 L460.34,909.7 L460.83,909.7 L461.32,909.7 L461.81,909.7 L462.3,909.7 L462.79,909.7 L463.28,909.7 L463.77,909.7 L464.26,909.7 L464.75,909.7 L465.23,909.7 L465.72,909.7 L466.21,909.7 L466.7,909.7 L467.19,909.7 L467.68,909.7 L468.17,909.7 L468.66,909.7 L469.15,909.7 L469.64,909.7 L470.12,909.7 L470.61,909.7 L471.1,909.7 L471.59,909.7 L472.08,909.7 L472.57,909.7 L473.06,909.7 L473.55,909.7 L474.04,909.7 L474.53,909.7 L475.01,909.7 L475.5,909.7 L475.99,909.7 L476.48,909.7 L476.97,909.7 L477.46,909.7 L477.95,909.7 L478.44,909.7 L478.93,909.7 L479.41,909.7 L479.9,909.7 L480.39,909.7 L480.88,909.7 L481.37,909.7 L481.86,909.7 L482.35,909.7 L482.84,909.7 L483.33,909.7 L483.82,909.7 L484.3,909.7 L484.79,909.7 L485.28,909.7 L485.77,909.7 L486.26,909.7 L486.75,909.7 L487.24,909.7 L487.73,909.7 L488.22,909.7 L488.71,909.7 L489.19,909.7 L489.68,909.7 L490.17,909.7 L490.66,909.7 L491.15,909.7 L491.64,909.7 L492.13,909.7 L492.62,909.7 L493.11,909.7 L493.6,909.7 L494.08,909.7 L494.57,909.7 L495.06,909.7 L495.55,909.7 L496.04,909.7 L496.53,909.7 L497.02,909.7 L497.51,909.7 L498,909.7 L498.49,909.7 L498.97,909.7 L499.46,909.7 L499.95,909.7 L500.44,909.7 L500.93,909.7 L501.42,909.7 L501.91,909.7 L502.4,909.7 L502.89,909.7 L503.38,909.7 L503.86,909.7 L504.35,909.7 L504.84,909.7 L505.33,909.7 L505.82,909.7 L506.31,909.7 L506.8,909.7 L507.29,909.7 L507.78,909.7 L508.27,909.7 L508.75,909.7 L509.24,909.7 L509.73,909.7 L510.22,909.7 L510.71,909.7 L511.2,909.7 L511.69,909.7 L512.18,909.7 L512.67,909.7 L513.16,909.7 L513.64,909.7 L514.13,909.7 L514.62,909.7 L515.11,909.7 L515.6,909.7" fill="none" stroke="#0a0a0a" stroke-width="2.6" stroke-linejoin="round"/>
<path d="M76,920.71 L76.49,920.71 L76.98,920.71 L77.47,920.71 L77.96,920.71 L78.44,920.71 L78.93,920.71 L79.42,920.71 L79.91,920.71 L80.4,920.71 L80.89,920.71 L81.38,920.71 L81.87,920.71 L82.36,920.71 L82.85,920.71 L83.33,920.71 L83.82,920.71 L84.31,920.71 L84.8,920.71 L85.29,920.29 L85.78,919.3 L86.27,918.04 L86.76,916.86 L87.25,916.07 L87.74,915.82 L88.22,915.65 L88.71,915.5 L89.2,915.36 L89.69,915.23 L90.18,915.12 L90.67,915.02 L91.16,914.93 L91.65,914.86 L92.14,914.78 L92.63,914.72 L93.11,914.66 L93.6,914.61 L94.09,914.56 L94.58,914.51 L95.07,914.46 L95.56,914.41 L96.05,914.35 L96.54,914.3 L97.03,914.23 L97.52,914.17 L98,914.09 L98.49,914 L98.98,913.91 L99.47,913.8 L99.96,913.68 L100.45,913.54 L100.94,913.37 L101.43,913.18 L101.92,912.98 L102.41,912.77 L102.89,912.54 L103.38,912.31 L103.87,912.07 L104.36,911.83 L104.85,911.59 L105.34,911.35 L105.83,911.12 L106.32,910.9 L106.81,910.69 L107.3,910.5 L107.78,910.33 L108.27,910.17 L108.76,910.04 L109.25,909.94 L109.74,909.86 L110.23,909.81 L110.72,909.76 L111.21,909.71 L111.7,909.66 L112.19,909.61 L112.67,909.56 L113.16,909.52 L113.65,909.47 L114.14,909.43 L114.63,909.38 L115.12,909.34 L115.61,909.3 L116.1,909.26 L116.59,909.22 L117.07,909.19 L117.56,909.15 L118.05,909.11 L118.54,909.08 L119.03,909.05 L119.52,909.02 L120.01,908.99 L120.5,908.96 L120.99,908.93 L121.48,908.9 L121.96,908.87 L122.45,908.85 L122.94,908.82 L123.43,908.8 L123.92,908.78 L124.41,908.76 L124.9,908.74 L125.39,908.72 L125.88,908.71 L126.37,908.69 L126.85,908.68 L127.34,908.66 L127.83,908.65 L128.32,908.64 L128.81,908.63 L129.3,908.62 L129.79,908.62 L130.28,908.61 L130.77,908.61 L131.26,908.6 L131.74,908.6 L132.23,908.6 L132.72,908.6 L133.21,908.6 L133.7,908.6 L134.19,908.6 L134.68,908.6 L135.17,908.6 L135.66,908.61 L136.15,908.61 L136.63,908.61 L137.12,908.61 L137.61,908.62 L138.1,908.62 L138.59,908.62 L139.08,908.63 L139.57,908.63 L140.06,908.64 L140.55,908.64 L141.04,908.65 L141.52,908.65 L142.01,908.66 L142.5,908.67 L142.99,908.67 L143.48,908.68 L143.97,908.69 L144.46,908.7 L144.95,908.7 L145.44,908.71 L145.93,908.72 L146.41,908.73 L146.9,908.74 L147.39,908.75 L147.88,908.76 L148.37,908.78 L148.86,908.79 L149.35,908.8 L149.84,908.81 L150.33,908.83 L150.82,908.84 L151.3,908.85 L151.79,908.87 L152.28,908.89 L152.77,908.9 L153.26,908.92 L153.75,908.93 L154.24,908.95 L154.73,908.97 L155.22,908.99 L155.71,909.01 L156.19,909.03 L156.68,909.05 L157.17,909.07 L157.66,909.09 L158.15,909.11 L158.64,909.14 L159.13,909.16 L159.62,909.18 L160.11,909.21 L160.59,909.23 L161.08,909.26 L161.57,909.28 L162.06,909.31 L162.55,909.34 L163.04,909.37 L163.53,909.4 L164.02,909.42 L164.51,909.46 L165,909.49 L165.48,909.52 L165.97,909.55 L166.46,909.58 L166.95,909.62 L167.44,909.65 L167.93,909.69 L168.42,909.72 L168.91,909.76 L169.4,909.8 L169.89,909.83 L170.37,909.88 L170.86,909.98 L171.35,910.13 L171.84,910.33 L172.33,910.58 L172.82,910.86 L173.31,911.18 L173.8,911.54 L174.29,911.92 L174.78,912.32 L175.26,912.75 L175.75,913.2 L176.24,913.65 L176.73,914.12 L177.22,914.59 L177.71,915.08 L178.2,915.63 L178.69,916.26 L179.18,916.97 L179.67,917.73 L180.15,918.54 L180.64,919.39 L181.13,920.26 L181.62,921.14 L182.11,922.02 L182.6,922.89 L183.09,923.77 L183.58,924.81 L184.07,925.98 L184.56,927.2 L185.04,928.43 L185.53,929.6 L186.02,930.65 L186.51,931.51 L187,932.13 L187.49,932.43 L187.98,932.45 L188.47,932.42 L188.96,932.37 L189.45,932.3 L189.93,932.21 L190.42,932.1 L190.91,931.98 L191.4,931.85 L191.89,931.7 L192.38,931.54 L192.87,931.38 L193.36,931.18 L193.85,930.9 L194.34,930.55 L194.82,930.13 L195.31,929.65 L195.8,929.1 L196.29,928.5 L196.78,927.84 L197.27,927.12 L197.76,926.36 L198.25,925.56 L198.74,924.72 L199.22,923.84 L199.71,922.9 L200.2,921.64 L200.69,920.07 L201.18,918.29 L201.67,916.41 L202.16,914.53 L202.65,912.75 L203.14,911.17 L203.63,909.86 L204.11,908.75 L204.6,907.78 L205.09,906.86 L205.58,905.92 L206.07,904.88 L206.56,903.67 L207.05,902.22 L207.54,900.41 L208.03,897.51 L208.52,893.47 L209,888.66 L209.49,883.45 L209.98,878.23 L210.47,873.37 L210.96,869.18 L211.45,865.18 L211.94,861.22 L212.43,857.35 L212.92,853.61 L213.41,850.03 L213.89,846.66 L214.38,843.53 L214.87,840.58 L215.36,837.66 L215.85,834.77 L216.34,831.97 L216.83,829.28 L217.32,826.74 L217.81,824.38 L218.3,822.23 L218.78,820.33 L219.27,818.72 L219.76,817.4 L220.25,816.24 L220.74,815.2 L221.23,814.25 L221.72,813.38 L222.21,812.57 L222.7,811.82 L223.19,811.09 L223.67,810.39 L224.16,809.69 L224.65,808.97 L225.14,808.2 L225.63,807.39 L226.12,806.56 L226.61,805.73 L227.1,804.93 L227.59,804.17 L228.08,803.5 L228.56,802.92 L229.05,802.46 L229.54,802.16 L230.03,802.03 L230.52,802.27 L231.01,803.17 L231.5,804.62 L231.99,806.47 L232.48,808.6 L232.97,810.88 L233.45,813.18 L233.94,815.82 L234.43,818.99 L234.92,822.61 L235.41,826.64 L235.9,830.99 L236.39,835.62 L236.88,840.56 L237.37,846.33 L237.85,852.78 L238.34,859.7 L238.83,866.85 L239.32,874.15 L239.81,882.2 L240.3,890.66 L240.79,898.97 L241.28,906.58 L241.77,913.29 L242.26,919.78 L242.74,925.95 L243.23,931.65 L243.72,936.74 L244.21,941.06 L244.7,944.87 L245.19,948.46 L245.68,951.81 L246.17,954.92 L246.66,957.78 L247.15,960.4 L247.63,962.77 L248.12,964.87 L248.61,966.72 L249.1,968.43 L249.59,970.05 L250.08,971.56 L250.57,972.95 L251.06,974.21 L251.55,975.34 L252.04,976.33 L252.52,977.16 L253.01,977.83 L253.5,978.34 L253.99,978.74 L254.48,979.09 L254.97,979.42 L255.46,979.8 L255.95,980.28 L256.44,980.9 L256.93,981.81 L257.41,983.56 L257.9,985.97 L258.39,988.77 L258.88,991.69 L259.37,994.44 L259.86,996.79 L260.35,998.95 L260.84,1001.08 L261.33,1003.17 L261.82,1005.2 L262.3,1007.14 L262.79,1008.97 L263.28,1010.68 L263.77,1012.28 L264.26,1013.89 L264.75,1015.5 L265.24,1017.06 L265.73,1018.53 L266.22,1019.87 L266.71,1021.03 L267.19,1021.98 L267.68,1022.66 L268.17,1023.16 L268.66,1023.62 L269.15,1024.06 L269.64,1024.44 L270.13,1024.77 L270.62,1025.03 L271.11,1025.21 L271.6,1025.3 L272.08,1025.29 L272.57,1025.17 L273.06,1024.94 L273.55,1024.62 L274.04,1024.21 L274.53,1023.71 L275.02,1023.13 L275.51,1022.37 L276,1020.63 L276.48,1017.96 L276.97,1014.7 L277.46,1011.14 L277.95,1007.54 L278.44,1003.18 L278.93,998.18 L279.42,992.91 L279.91,987.77 L280.4,983.13 L280.89,978.64 L281.37,974.09 L281.86,969.66 L282.35,965.49 L282.84,961.76 L283.33,958.64 L283.82,956.18 L284.31,953.89 L284.8,951.69 L285.29,949.6 L285.78,947.67 L286.26,945.91 L286.75,944.36 L287.24,943.05 L287.73,942 L288.22,941.25 L288.71,940.82 L289.2,940.53 L289.69,940.3 L290.18,940.13 L290.67,939.98 L291.15,939.86 L291.64,939.75 L292.13,939.64 L292.62,939.51 L293.11,939.35 L293.6,939.14 L294.09,938.89 L294.58,938.52 L295.07,937.68 L295.56,936.4 L296.04,934.84 L296.53,933.17 L297.02,931.53 L297.51,930.09 L298,929.02 L298.49,928.46 L298.98,928.49 L299.47,928.85 L299.96,929.47 L300.45,930.29 L300.93,931.27 L301.42,932.33 L301.91,933.44 L302.4,934.54 L302.89,935.57 L303.38,936.48 L303.87,937.22 L304.36,937.73 L304.85,937.95 L305.34,937.89 L305.82,937.63 L306.31,937.19 L306.8,936.6 L307.29,935.88 L307.78,935.05 L308.27,934.15 L308.76,933.19 L309.25,932.2 L309.74,931.2 L310.23,930.21 L310.71,929.27 L311.2,928.39 L311.69,927.49 L312.18,926.52 L312.67,925.49 L313.16,924.41 L313.65,923.31 L314.14,922.2 L314.63,921.1 L315.12,920.04 L315.6,919.03 L316.09,918.08 L316.58,917.22 L317.07,916.47 L317.56,915.84 L318.05,915.28 L318.54,914.76 L319.03,914.28 L319.52,913.83 L320,913.41 L320.49,913.01 L320.98,912.63 L321.47,912.26 L321.96,911.91 L322.45,911.56 L322.94,911.21 L323.43,910.87 L323.92,910.53 L324.41,910.19 L324.89,909.86 L325.38,909.54 L325.87,909.22 L326.36,908.92 L326.85,908.63 L327.34,908.35 L327.83,908.09 L328.32,907.84 L328.81,907.62 L329.3,907.41 L329.78,907.22 L330.27,907.06 L330.76,906.91 L331.25,906.78 L331.74,906.67 L332.23,906.56 L332.72,906.47 L333.21,906.38 L333.7,906.29 L334.19,906.2 L334.67,906.11 L335.16,906.01 L335.65,905.91 L336.14,905.79 L336.63,905.66 L337.12,905.52 L337.61,905.35 L338.1,905.14 L338.59,904.86 L339.08,904.53 L339.56,904.16 L340.05,903.76 L340.54,903.33 L341.03,902.9 L341.52,902.48 L342.01,902.06 L342.5,901.67 L342.99,901.31 L343.48,901 L343.97,900.75 L344.45,900.57 L344.94,900.44 L345.43,900.32 L345.92,900.2 L346.41,900.09 L346.9,899.98 L347.39,899.88 L347.88,899.78 L348.37,899.68 L348.86,899.59 L349.34,899.51 L349.83,899.43 L350.32,899.36 L350.81,899.3 L351.3,899.24 L351.79,899.19 L352.28,899.15 L352.77,899.11 L353.26,899.09 L353.75,899.07 L354.23,899.06 L354.72,899.06 L355.21,899.1 L355.7,899.18 L356.19,899.29 L356.68,899.43 L357.17,899.59 L357.66,899.77 L358.15,899.97 L358.63,900.17 L359.12,900.39 L359.61,900.61 L360.1,900.82 L360.59,901.03 L361.08,901.23 L361.57,901.42 L362.06,901.59 L362.55,901.73 L363.04,901.85 L363.52,901.93 L364.01,901.98 L364.5,901.99 L364.99,901.95 L365.48,901.87 L365.97,901.75 L366.46,901.59 L366.95,901.4 L367.44,901.18 L367.93,900.95 L368.41,900.7 L368.9,900.44 L369.39,900.18 L369.88,899.91 L370.37,899.66 L370.86,899.42 L371.35,899.19 L371.84,898.99 L372.33,898.81 L372.82,898.67 L373.3,898.54 L373.79,898.41 L374.28,898.28 L374.77,898.16 L375.26,898.04 L375.75,897.92 L376.24,897.8 L376.73,897.68 L377.22,897.57 L377.71,897.46 L378.19,897.36 L378.68,897.26 L379.17,897.16 L379.66,897.06 L380.15,896.97 L380.64,896.89 L381.13,896.8 L381.62,896.72 L382.11,896.65 L382.6,896.58 L383.08,896.51 L383.57,896.45 L384.06,896.4 L384.55,896.35 L385.04,896.3 L385.53,896.25 L386.02,896.21 L386.51,896.16 L387,896.11 L387.49,896.07 L387.97,896.03 L388.46,895.98 L388.95,895.94 L389.44,895.91 L389.93,895.87 L390.42,895.84 L390.91,895.81 L391.4,895.78 L391.89,895.75 L392.38,895.73 L392.86,895.71 L393.35,895.7 L393.84,895.69 L394.33,895.68 L394.82,895.68 L395.31,895.75 L395.8,895.89 L396.29,896.1 L396.78,896.37 L397.26,896.69 L397.75,897.04 L398.24,897.42 L398.73,897.82 L399.22,898.23 L399.71,898.63 L400.2,899.02 L400.69,899.38 L401.18,899.71 L401.67,900.02 L402.15,900.35 L402.64,900.7 L403.13,901.07 L403.62,901.45 L404.11,901.83 L404.6,902.22 L405.09,902.59 L405.58,902.95 L406.07,903.3 L406.56,903.62 L407.04,903.91 L407.53,904.16 L408.02,904.37 L408.51,904.54 L409,904.65 L409.49,904.71 L409.98,904.69 L410.47,904.61 L410.96,904.47 L411.45,904.27 L411.93,904.02 L412.42,903.74 L412.91,903.42 L413.4,903.08 L413.89,902.72 L414.38,902.36 L414.87,902 L415.36,901.64 L415.85,901.3 L416.34,900.99 L416.82,900.65 L417.31,900.28 L417.8,899.87 L418.29,899.44 L418.78,898.99 L419.27,898.52 L419.76,898.04 L420.25,897.56 L420.74,897.09 L421.23,896.62 L421.71,896.16 L422.2,895.73 L422.69,895.31 L423.18,894.94 L423.67,894.59 L424.16,894.29 L424.65,894.04 L425.14,893.84 L425.63,893.71 L426.12,893.64 L426.6,893.63 L427.09,893.63 L427.58,893.64 L428.07,893.65 L428.56,893.66 L429.05,893.68 L429.54,893.71 L430.03,893.73 L430.52,893.76 L431.01,893.79 L431.49,893.83 L431.98,893.87 L432.47,893.91 L432.96,893.96 L433.45,894.01 L433.94,894.06 L434.43,894.12 L434.92,894.18 L435.41,894.24 L435.89,894.3 L436.38,894.37 L436.87,894.44 L437.36,894.52 L437.85,894.59 L438.34,894.67 L438.83,894.8 L439.32,894.97 L439.81,895.2 L440.3,895.46 L440.78,895.76 L441.27,896.09 L441.76,896.43 L442.25,896.8 L442.74,897.17 L443.23,897.54 L443.72,897.91 L444.21,898.27 L444.7,898.61 L445.19,898.94 L445.67,899.32 L446.16,899.73 L446.65,900.17 L447.14,900.62 L447.63,901.09 L448.12,901.56 L448.61,902.03 L449.1,902.48 L449.59,902.91 L450.08,903.31 L450.56,903.68 L451.05,904.01 L451.54,904.28 L452.03,904.49 L452.52,904.64 L453.01,904.7 L453.5,904.71 L453.99,904.7 L454.48,904.68 L454.97,904.65 L455.45,904.62 L455.94,904.58 L456.43,904.53 L456.92,904.47 L457.41,904.41 L457.9,904.34 L458.39,904.27 L458.88,904.19 L459.37,904.11 L459.86,904.02 L460.34,903.92 L460.83,903.83 L461.32,903.73 L461.81,903.6 L462.3,903.39 L462.79,903.08 L463.28,902.69 L463.77,902.24 L464.26,901.75 L464.75,901.21 L465.23,900.66 L465.72,900.1 L466.21,899.54 L466.7,899.01 L467.19,898.51 L467.68,898.06 L468.17,897.67 L468.66,897.36 L469.15,897.14 L469.64,897.02 L470.12,897 L470.61,897.01 L471.1,897.02 L471.59,897.04 L472.08,897.06 L472.57,897.09 L473.06,897.12 L473.55,897.15 L474.04,897.19 L474.53,897.23 L475.01,897.28 L475.5,897.33 L475.99,897.38 L476.48,897.44 L476.97,897.5 L477.46,897.56 L477.95,897.63 L478.44,897.69 L478.93,897.8 L479.41,897.95 L479.9,898.14 L480.39,898.36 L480.88,898.61 L481.37,898.88 L481.86,899.17 L482.35,899.48 L482.84,899.81 L483.33,900.14 L483.82,900.47 L484.3,900.81 L484.79,901.14 L485.28,901.46 L485.77,901.77 L486.26,902.06 L486.75,902.33 L487.24,902.58 L487.73,902.8 L488.22,902.98 L488.71,903.14 L489.19,903.29 L489.68,903.45 L490.17,903.6 L490.66,903.76 L491.15,903.91 L491.64,904.06 L492.13,904.21 L492.62,904.36 L493.11,904.5 L493.6,904.63 L494.08,904.76 L494.57,904.89 L495.06,905 L495.55,905.11 L496.04,905.22 L496.53,905.31 L497.02,905.39 L497.51,905.47 L498,905.53 L498.49,905.58 L498.97,905.62 L499.46,905.65 L499.95,905.66 L500.44,905.66 L500.93,905.66 L501.42,905.66 L501.91,905.66 L502.4,905.66 L502.89,905.66 L503.38,905.66 L503.86,905.66 L504.35,905.66 L504.84,905.66 L505.33,905.66 L505.82,905.66 L506.31,905.66 L506.8,905.66 L507.29,905.66 L507.78,905.66 L508.27,905.66 L508.75,905.66 L509.24,905.66 L509.73,905.66 L510.22,905.66 L510.71,905.66 L511.2,905.66 L511.69,905.66 L512.18,905.66 L512.67,905.66 L513.16,905.66 L513.64,905.66 L514.13,905.66 L514.62,905.66 L515.11,905.66 L515.6,905.66" fill="none" stroke="#4a4a4a" stroke-width="2.6" stroke-linejoin="round" stroke-dasharray="9.5 3.8"/>
<path d="M76,905.66 L77.1,905.66 L78.2,905.66 L79.31,905.66 L80.41,905.66 L81.51,905.66 L82.61,905.66 L83.71,905.69 L84.81,906.23 L85.92,907.14 L87.02,907.96 L88.12,908.24 L89.22,908.27 L90.32,908.3 L91.42,908.33 L92.53,908.35 L93.63,908.38 L94.73,908.4 L95.83,908.42 L96.93,908.44 L98.04,908.46 L99.14,908.48 L100.24,908.49 L101.34,908.51 L102.44,908.52 L103.54,908.53 L104.65,908.54 L105.75,908.55 L106.85,908.56 L107.95,908.57 L109.05,908.57 L110.15,908.58 L111.26,908.58 L112.36,908.59 L113.46,908.59 L114.56,908.59 L115.66,908.6 L116.76,908.6 L117.87,908.6 L118.97,908.6 L120.07,908.6 L121.17,908.6 L122.27,908.6 L123.38,908.6 L124.48,908.6 L125.58,908.6 L126.68,908.6 L127.78,908.6 L128.88,908.6 L129.99,908.6 L131.09,908.6 L132.19,908.6 L133.29,908.6 L134.39,908.6 L135.49,908.6 L136.6,908.6 L137.7,908.6 L138.8,908.6 L139.9,908.6 L141,908.6 L142.11,908.6 L143.21,908.6 L144.31,908.6 L145.41,908.6 L146.51,908.6 L147.61,908.6 L148.72,908.6 L149.82,908.6 L150.92,908.6 L152.02,908.6 L153.12,908.6 L154.22,908.6 L155.33,908.6 L156.43,908.6 L157.53,908.6 L158.63,908.6 L159.73,908.6 L160.84,908.6 L161.94,908.6 L163.04,908.6 L164.14,908.6 L165.24,908.6 L166.34,908.6 L167.45,908.6 L168.55,908.6 L169.65,908.6 L170.75,908.6 L171.85,908.6 L172.95,908.6 L174.06,908.6 L175.16,908.6 L176.26,908.6 L177.36,908.6 L178.46,908.6 L179.56,908.6 L180.67,908.6 L181.77,908.6 L182.87,908.6 L183.97,908.6 L185.07,908.6 L186.18,908.6 L187.28,908.6 L188.38,908.6 L189.48,908.6 L190.58,908.6 L191.68,908.6 L192.79,908.6 L193.89,908.6 L194.99,908.6 L196.09,908.6 L197.19,908.6 L198.29,908.6 L199.4,908.6 L200.5,908.6 L201.6,908.6 L202.7,908.6 L203.8,908.6 L204.91,908.6 L206.01,908.6 L207.11,908.6 L208.21,908.6 L209.31,908.6 L210.41,908.6 L211.52,908.6 L212.62,908.6 L213.72,908.6 L214.82,908.6 L215.92,908.6 L217.02,908.6 L218.13,908.6 L219.23,908.6 L220.33,908.6 L221.43,908.6 L222.53,908.6 L223.64,908.6 L224.74,908.6 L225.84,908.6 L226.94,908.6 L228.04,908.6 L229.14,908.6 L230.25,908.6 L231.35,908.6 L232.45,908.6 L233.55,908.6 L234.65,908.6 L235.75,908.6 L236.86,908.6 L237.96,908.6 L239.06,908.6 L240.16,908.6 L241.26,908.6 L242.36,908.6 L243.47,908.6 L244.57,908.6 L245.67,908.6 L246.77,908.6 L247.87,908.6 L248.98,908.6 L250.08,908.6 L251.18,908.6 L252.28,908.6 L253.38,908.6 L254.48,908.6 L255.59,908.6 L256.69,908.6 L257.79,908.6 L258.89,908.6 L259.99,908.6 L261.09,908.6 L262.2,908.6 L263.3,908.6 L264.4,908.6 L265.5,908.6 L266.6,908.6 L267.71,908.6 L268.81,908.6 L269.91,908.6 L271.01,908.6 L272.11,908.6 L273.21,908.6 L274.32,908.6 L275.42,908.6 L276.52,908.6 L277.62,908.6 L278.72,908.6 L279.82,908.6 L280.93,908.6 L282.03,908.6 L283.13,908.6 L284.23,908.6 L285.33,908.6 L286.44,908.6 L287.54,908.6 L288.64,908.6 L289.74,908.6 L290.84,908.6 L291.94,908.6 L293.05,908.6 L294.15,908.6 L295.25,908.6 L296.35,908.6 L297.45,908.6 L298.55,908.6 L299.66,908.6 L300.76,908.6 L301.86,908.6 L302.96,908.6 L304.06,908.6 L305.16,908.6 L306.27,908.6 L307.37,908.6 L308.47,908.6 L309.57,908.6 L310.67,908.6 L311.78,908.6 L312.88,908.6 L313.98,908.6 L315.08,908.6 L316.18,908.6 L317.28,908.6 L318.39,908.61 L319.49,908.61 L320.59,908.61 L321.69,908.61 L322.79,908.61 L323.89,908.61 L325,908.61 L326.1,908.61 L327.2,908.61 L328.3,908.61 L329.4,908.61 L330.51,908.61 L331.61,908.61 L332.71,908.61 L333.81,908.62 L334.91,908.62 L336.01,908.62 L337.12,908.62 L338.22,908.62 L339.32,908.62 L340.42,908.62 L341.52,908.62 L342.62,908.62 L343.73,908.62 L344.83,908.62 L345.93,908.63 L347.03,908.63 L348.13,908.63 L349.24,908.63 L350.34,908.63 L351.44,908.63 L352.54,908.63 L353.64,908.63 L354.74,908.63 L355.85,908.64 L356.95,908.64 L358.05,908.64 L359.15,908.64 L360.25,908.64 L361.35,908.64 L362.46,908.64 L363.56,908.65 L364.66,908.65 L365.76,908.65 L366.86,908.65 L367.96,908.65 L369.07,908.65 L370.17,908.65 L371.27,908.66 L372.37,908.66 L373.47,908.66 L374.58,908.66 L375.68,908.66 L376.78,908.66 L377.88,908.67 L378.98,908.67 L380.08,908.67 L381.19,908.67 L382.29,908.67 L383.39,908.67 L384.49,908.68 L385.59,908.68 L386.69,908.68 L387.8,908.68 L388.9,908.68 L390,908.68 L391.1,908.69 L392.2,908.69 L393.31,908.69 L394.41,908.69 L395.51,908.69 L396.61,908.7 L397.71,908.7 L398.81,908.7 L399.92,908.7 L401.02,908.7 L402.12,908.71 L403.22,908.71 L404.32,908.71 L405.42,908.71 L406.53,908.71 L407.63,908.72 L408.73,908.72 L409.83,908.72 L410.93,908.72 L412.04,908.72 L413.14,908.73 L414.24,908.73 L415.34,908.73 L416.44,908.73 L417.54,908.73 L418.65,908.74 L419.75,908.74 L420.85,908.74 L421.95,908.74 L423.05,908.75 L424.15,908.75 L425.26,908.75 L426.36,908.75 L427.46,908.76 L428.56,908.76 L429.66,908.76 L430.76,908.76 L431.87,908.76 L432.97,908.77 L434.07,908.77 L435.17,908.77 L436.27,908.77 L437.38,908.78 L438.48,908.78 L439.58,908.78 L440.68,908.78 L441.78,908.79 L442.88,908.79 L443.99,908.79 L445.09,908.79 L446.19,908.8 L447.29,908.8 L448.39,908.8 L449.49,908.8 L450.6,908.81 L451.7,908.81 L452.8,908.81 L453.9,908.81 L455,908.82 L456.11,908.82 L457.21,908.82 L458.31,908.82 L459.41,908.83 L460.51,908.83 L461.61,908.83 L462.72,908.83 L463.82,908.84 L464.92,908.84 L466.02,908.84 L467.12,908.84 L468.22,908.85 L469.33,908.85 L470.43,908.85 L471.53,908.86 L472.63,908.86 L473.73,908.86 L474.84,908.86 L475.94,908.87 L477.04,908.87 L478.14,908.87 L479.24,908.87 L480.34,908.88 L481.45,908.88 L482.55,908.88 L483.65,908.89 L484.75,908.89 L485.85,908.89 L486.95,908.89 L488.06,908.9 L489.16,908.9 L490.26,908.9 L491.36,908.9 L492.46,908.91 L493.56,908.91 L494.67,908.91 L495.77,908.92 L496.87,908.92 L497.97,908.92 L499.07,908.92 L500.18,908.93 L501.28,908.93 L502.38,908.93 L503.48,908.94 L504.58,908.94 L505.68,908.94 L506.79,908.94 L507.89,908.95 L508.99,908.95 L510.09,908.95 L511.19,908.96 L512.29,908.96 L513.4,908.96 L514.5,908.96 L515.6,908.97" fill="none" stroke="#929292" stroke-width="2.6" stroke-linejoin="round"/>
<line x1="408.6" y1="984.9" x2="442.7" y2="984.9" stroke="#929292" stroke-width="2.8"/>
<text x="460" y="992.8" font-size="23.8" fill="#0a0a0a" stroke="#0a0a0a" stroke-width="0.45">10d</text>
<line x1="408.6" y1="1009" x2="442.7" y2="1009" stroke="#4a4a4a" stroke-width="2.8" stroke-dasharray="9.5 3.8"/>
<text x="460" y="1016.9" font-size="23.8" fill="#0a0a0a" stroke="#0a0a0a" stroke-width="0.45">22d</text>
<line x1="408.6" y1="1032.6" x2="442.7" y2="1032.6" stroke="#0a0a0a" stroke-width="2.8"/>
<text x="460" y="1040.5" font-size="23.8" fill="#0a0a0a" stroke="#0a0a0a" stroke-width="0.45">44d</text>
<path d="M76.4,1197.25 V1491.5 H271.4" fill="none" stroke="#0a0a0a" stroke-width="2.9"/>
<line x1="64.4" y1="1198.7" x2="76.4" y2="1198.7" stroke="#0a0a0a" stroke-width="2.7"/>
<text x="61.2" y="1206.7" font-size="22.4" text-anchor="end" fill="#0a0a0a" stroke="#0a0a0a" stroke-width="0.42">20</text>
<line x1="64.4" y1="1268.42" x2="76.4" y2="1268.42" stroke="#0a0a0a" stroke-width="2.7"/>
<text x="61.2" y="1276.42" font-size="22.4" text-anchor="end" fill="#0a0a0a" stroke="#0a0a0a" stroke-width="0.42">15</text>
<line x1="64.4" y1="1338.15" x2="76.4" y2="1338.15" stroke="#0a0a0a" stroke-width="2.7"/>
<text x="61.2" y="1346.15" font-size="22.4" text-anchor="end" fill="#0a0a0a" stroke="#0a0a0a" stroke-width="0.42">10</text>
<line x1="64.4" y1="1407.88" x2="76.4" y2="1407.88" stroke="#0a0a0a" stroke-width="2.7"/>
<text x="61.2" y="1415.88" font-size="22.4" text-anchor="end" fill="#0a0a0a" stroke="#0a0a0a" stroke-width="0.42">5</text>
<line x1="64.4" y1="1477.6" x2="76.4" y2="1477.6" stroke="#0a0a0a" stroke-width="2.7"/>
<text x="61.2" y="1485.6" font-size="22.4" text-anchor="end" fill="#0a0a0a" stroke="#0a0a0a" stroke-width="0.42">0</text>
<line x1="114.6" y1="1491.5" x2="114.6" y2="1503.8" stroke="#0a0a0a" stroke-width="2.7"/>
<line x1="173.4" y1="1491.5" x2="173.4" y2="1503.8" stroke="#0a0a0a" stroke-width="2.7"/>
<line x1="231.7" y1="1491.5" x2="231.7" y2="1503.8" stroke="#0a0a0a" stroke-width="2.7"/>
<text transform="translate(105.8 1522.3) rotate(-45)" x="0" y="7.7" font-size="21.5" text-anchor="middle" fill="#0a0a0a" stroke="#0a0a0a" stroke-width="0.4">10</text>
<text transform="translate(164.4 1522.3) rotate(-45)" x="0" y="7.7" font-size="21.5" text-anchor="middle" fill="#0a0a0a" stroke="#0a0a0a" stroke-width="0.4">22</text>
<text transform="translate(222.3 1522.3) rotate(-45)" x="0" y="7.7" font-size="21.5" text-anchor="middle" fill="#0a0a0a" stroke="#0a0a0a" stroke-width="0.4">44</text>
<text x="0.6" y="1186" font-size="26" font-weight="bold" fill="#0a0a0a" stroke="#0a0a0a" stroke-width="0.29">e</text>
<text x="76" y="1189.2" font-size="23.4" font-weight="bold" fill="#0a0a0a" stroke="#0a0a0a" stroke-width="0.26">sham+</text>
<text x="173.2" y="1566.8" font-size="23.6" text-anchor="middle" fill="#0a0a0a" stroke="#0a0a0a" stroke-width="0.44">Days after stroke</text>
<text x="20.4" y="1344.4" font-size="24.0" text-anchor="middle" fill="#0a0a0a" stroke="#0a0a0a" stroke-width="0.45" transform="rotate(-90 20.4 1344.4)">Sciatic CMAP (mV)</text>
<path d="M106.2,1477.2 L109.1,1474.3 L112,1477.2 L109.1,1480.1 Z" fill="#0a0a0a"/>
<path d="M118.3,1477.2 L121.2,1474.3 L124.1,1477.2 L121.2,1480.1 Z" fill="#0a0a0a"/>
<path d="M153.3,1456.5 H193.5 L181,1459.5 L193.5,1462.5 H153.3 L166,1459.5 Z" fill="#0a0a0a" stroke="#0a0a0a" stroke-width="1"/>
<path d="M165.2,1462.3 L167.4,1460.1 L169.6,1462.3 L167.4,1464.5 Z" fill="#0a0a0a"/>
<path d="M177.2,1456.3 L179.4,1454.1 L181.6,1456.3 L179.4,1458.5 Z" fill="#0a0a0a"/>
<clipPath id="bt1"><path d="M213.4,1258.5 H250.8 C249.26,1281.22 243.1,1294.86 243.1,1309 C243.1,1323.59 249.26,1337.65 250.8,1361.1 H213.4 C214.96,1337.65 221.2,1323.59 221.2,1309 C221.2,1294.86 214.96,1281.22 213.4,1258.5 Z"/></clipPath>
<g clip-path="url(#bt1)" stroke="#0a0a0a" stroke-width="2.6">
<line x1="211.4" y1="1251.7" x2="252.8" y2="1210.3"/>
<line x1="211.4" y1="1264.1" x2="252.8" y2="1222.7"/>
<line x1="211.4" y1="1276.5" x2="252.8" y2="1235.1"/>
<line x1="211.4" y1="1288.9" x2="252.8" y2="1247.5"/>
<line x1="211.4" y1="1301.3" x2="252.8" y2="1259.9"/>
<line x1="211.4" y1="1313.7" x2="252.8" y2="1272.3"/>
<line x1="211.4" y1="1326.1" x2="252.8" y2="1284.7"/>
<line x1="211.4" y1="1338.5" x2="252.8" y2="1297.1"/>
<line x1="211.4" y1="1350.9" x2="252.8" y2="1309.5"/>
<line x1="211.4" y1="1363.3" x2="252.8" y2="1321.9"/>
<line x1="211.4" y1="1375.7" x2="252.8" y2="1334.3"/>
<line x1="211.4" y1="1388.1" x2="252.8" y2="1346.7"/>
<line x1="211.4" y1="1400.5" x2="252.8" y2="1359.1"/>
</g>
<path d="M213.4,1258.5 H250.8 C249.26,1281.22 243.1,1294.86 243.1,1309 C243.1,1323.59 249.26,1337.65 250.8,1361.1 H213.4 C214.96,1337.65 221.2,1323.59 221.2,1309 C221.2,1294.86 214.96,1281.22 213.4,1258.5 Z" fill="none" stroke="#0a0a0a" stroke-width="1.5"/>
<line x1="221.2" y1="1309" x2="243.1" y2="1309" stroke="#0a0a0a" stroke-width="1.8"/>
<path d="M229.3,1258.3 L231.7,1255.9 L234.1,1258.3 L231.7,1260.7 Z" fill="#0a0a0a"/>
<path d="M229.3,1361.3 L231.7,1358.9 L234.1,1361.3 L231.7,1363.7 Z" fill="#0a0a0a"/>
<path d="M392.2,1197.25 V1491.5 H587" fill="none" stroke="#0a0a0a" stroke-width="2.9"/>
<line x1="379" y1="1198.7" x2="392.2" y2="1198.7" stroke="#0a0a0a" stroke-width="2.7"/>
<text x="375.8" y="1206.5" font-size="23.6" text-anchor="end" fill="#0a0a0a" stroke="#0a0a0a" stroke-width="0.44">50</text>
<line x1="379" y1="1254.48" x2="392.2" y2="1254.48" stroke="#0a0a0a" stroke-width="2.7"/>
<text x="375.8" y="1262.28" font-size="23.6" text-anchor="end" fill="#0a0a0a" stroke="#0a0a0a" stroke-width="0.44">40</text>
<line x1="379" y1="1310.26" x2="392.2" y2="1310.26" stroke="#0a0a0a" stroke-width="2.7"/>
<text x="375.8" y="1318.06" font-size="23.6" text-anchor="end" fill="#0a0a0a" stroke="#0a0a0a" stroke-width="0.44">30</text>
<line x1="379" y1="1366.04" x2="392.2" y2="1366.04" stroke="#0a0a0a" stroke-width="2.7"/>
<text x="375.8" y="1373.84" font-size="23.6" text-anchor="end" fill="#0a0a0a" stroke="#0a0a0a" stroke-width="0.44">20</text>
<line x1="379" y1="1421.82" x2="392.2" y2="1421.82" stroke="#0a0a0a" stroke-width="2.7"/>
<text x="375.8" y="1429.62" font-size="23.6" text-anchor="end" fill="#0a0a0a" stroke="#0a0a0a" stroke-width="0.44">10</text>
<line x1="379" y1="1477.6" x2="392.2" y2="1477.6" stroke="#0a0a0a" stroke-width="2.7"/>
<text x="375.8" y="1485.4" font-size="23.6" text-anchor="end" fill="#0a0a0a" stroke="#0a0a0a" stroke-width="0.44">0</text>
<line x1="430.4" y1="1491.5" x2="430.4" y2="1503.8" stroke="#0a0a0a" stroke-width="2.7"/>
<line x1="488.8" y1="1491.5" x2="488.8" y2="1503.8" stroke="#0a0a0a" stroke-width="2.7"/>
<line x1="547.3" y1="1491.5" x2="547.3" y2="1503.8" stroke="#0a0a0a" stroke-width="2.7"/>
<text transform="translate(421.3 1522.3) rotate(-45)" x="0" y="7.7" font-size="21.5" text-anchor="middle" fill="#0a0a0a" stroke="#0a0a0a" stroke-width="0.4">10</text>
<text transform="translate(479.7 1522.3) rotate(-45)" x="0" y="7.7" font-size="21.5" text-anchor="middle" fill="#0a0a0a" stroke="#0a0a0a" stroke-width="0.4">22</text>
<text transform="translate(538.2 1522.3) rotate(-45)" x="0" y="7.7" font-size="21.5" text-anchor="middle" fill="#0a0a0a" stroke="#0a0a0a" stroke-width="0.4">44</text>
<text x="327.6" y="1186" font-size="26" font-weight="bold" fill="#0a0a0a" stroke="#0a0a0a" stroke-width="0.29">f</text>
<text x="391.8" y="1189.2" font-size="23.4" font-weight="bold" fill="#0a0a0a" stroke="#0a0a0a" stroke-width="0.26">sham+</text>
<text x="490.5" y="1569.2" font-size="23.6" text-anchor="middle" fill="#0a0a0a" stroke="#0a0a0a" stroke-width="0.44">Days after stroke</text>
<text x="335.3" y="1342.4" font-size="24.1" text-anchor="middle" fill="#0a0a0a" stroke="#0a0a0a" stroke-width="0.45" transform="rotate(-90 335.3 1342.4)">Sciativ MCV (m/s)</text>
<path d="M421.9,1477.2 L424.8,1474.3 L427.7,1477.2 L424.8,1480.1 Z" fill="#0a0a0a"/>
<path d="M433.9,1477.2 L436.8,1474.3 L439.7,1477.2 L436.8,1480.1 Z" fill="#0a0a0a"/>
<clipPath id="bt2"><path d="M470.4,1418.5 H507.9 C506.22,1421.02 499.5,1422.53 499.5,1424.1 C499.5,1425.67 506.22,1427.18 507.9,1429.7 H470.4 C472.2,1427.18 479.4,1425.67 479.4,1424.1 C479.4,1422.53 472.2,1421.02 470.4,1418.5 Z"/></clipPath>
<g clip-path="url(#bt2)" stroke="#0a0a0a" stroke-width="2.2">
<line x1="468.4" y1="1416.3" x2="509.9" y2="1374.8"/>
<line x1="468.4" y1="1428.7" x2="509.9" y2="1387.2"/>
<line x1="468.4" y1="1441.1" x2="509.9" y2="1399.6"/>
<line x1="468.4" y1="1453.5" x2="509.9" y2="1412"/>
<line x1="468.4" y1="1465.9" x2="509.9" y2="1424.4"/>
<line x1="468.4" y1="1478.3" x2="509.9" y2="1436.8"/>
</g>
<path d="M470.4,1418.5 H507.9 C506.22,1421.02 499.5,1422.53 499.5,1424.1 C499.5,1425.67 506.22,1427.18 507.9,1429.7 H470.4 C472.2,1427.18 479.4,1425.67 479.4,1424.1 C479.4,1422.53 472.2,1421.02 470.4,1418.5 Z" fill="none" stroke="#0a0a0a" stroke-width="1.5"/>
<line x1="479.4" y1="1424.1" x2="499.5" y2="1424.1" stroke="#0a0a0a" stroke-width="1.8"/>
<path d="M486.6,1417.7 L489,1415.3 L491.4,1417.7 L489,1420.1 Z" fill="#0a0a0a"/>
<path d="M486.6,1430.2 L489,1427.8 L491.4,1430.2 L489,1432.6 Z" fill="#0a0a0a"/>
<clipPath id="bt3"><path d="M528.3,1223.1 H566.5 C564.9,1228.72 558.5,1232.1 558.5,1235.6 C558.5,1239.13 564.9,1242.53 566.5,1248.2 H528.3 C530.12,1242.53 537.4,1239.13 537.4,1235.6 C537.4,1232.1 530.12,1228.72 528.3,1223.1 Z"/></clipPath>
<g clip-path="url(#bt3)" stroke="#0a0a0a" stroke-width="2.6">
<line x1="526.3" y1="1222" x2="568.5" y2="1179.8"/>
<line x1="526.3" y1="1234.4" x2="568.5" y2="1192.2"/>
<line x1="526.3" y1="1246.8" x2="568.5" y2="1204.6"/>
<line x1="526.3" y1="1259.2" x2="568.5" y2="1217"/>
<line x1="526.3" y1="1271.6" x2="568.5" y2="1229.4"/>
<line x1="526.3" y1="1284" x2="568.5" y2="1241.8"/>
<line x1="526.3" y1="1296.4" x2="568.5" y2="1254.2"/>
</g>
<path d="M528.3,1223.1 H566.5 C564.9,1228.72 558.5,1232.1 558.5,1235.6 C558.5,1239.13 564.9,1242.53 566.5,1248.2 H528.3 C530.12,1242.53 537.4,1239.13 537.4,1235.6 C537.4,1232.1 530.12,1228.72 528.3,1223.1 Z" fill="none" stroke="#0a0a0a" stroke-width="1.5"/>
<line x1="537.4" y1="1235.6" x2="558.5" y2="1235.6" stroke="#0a0a0a" stroke-width="1.8"/>
<path d="M545,1222.7 L547.4,1220.3 L549.8,1222.7 L547.4,1225.1 Z" fill="#0a0a0a"/>
<path d="M545,1248.8 L547.4,1246.4 L549.8,1248.8 L547.4,1251.2 Z" fill="#0a0a0a"/>
</svg></body></html>
